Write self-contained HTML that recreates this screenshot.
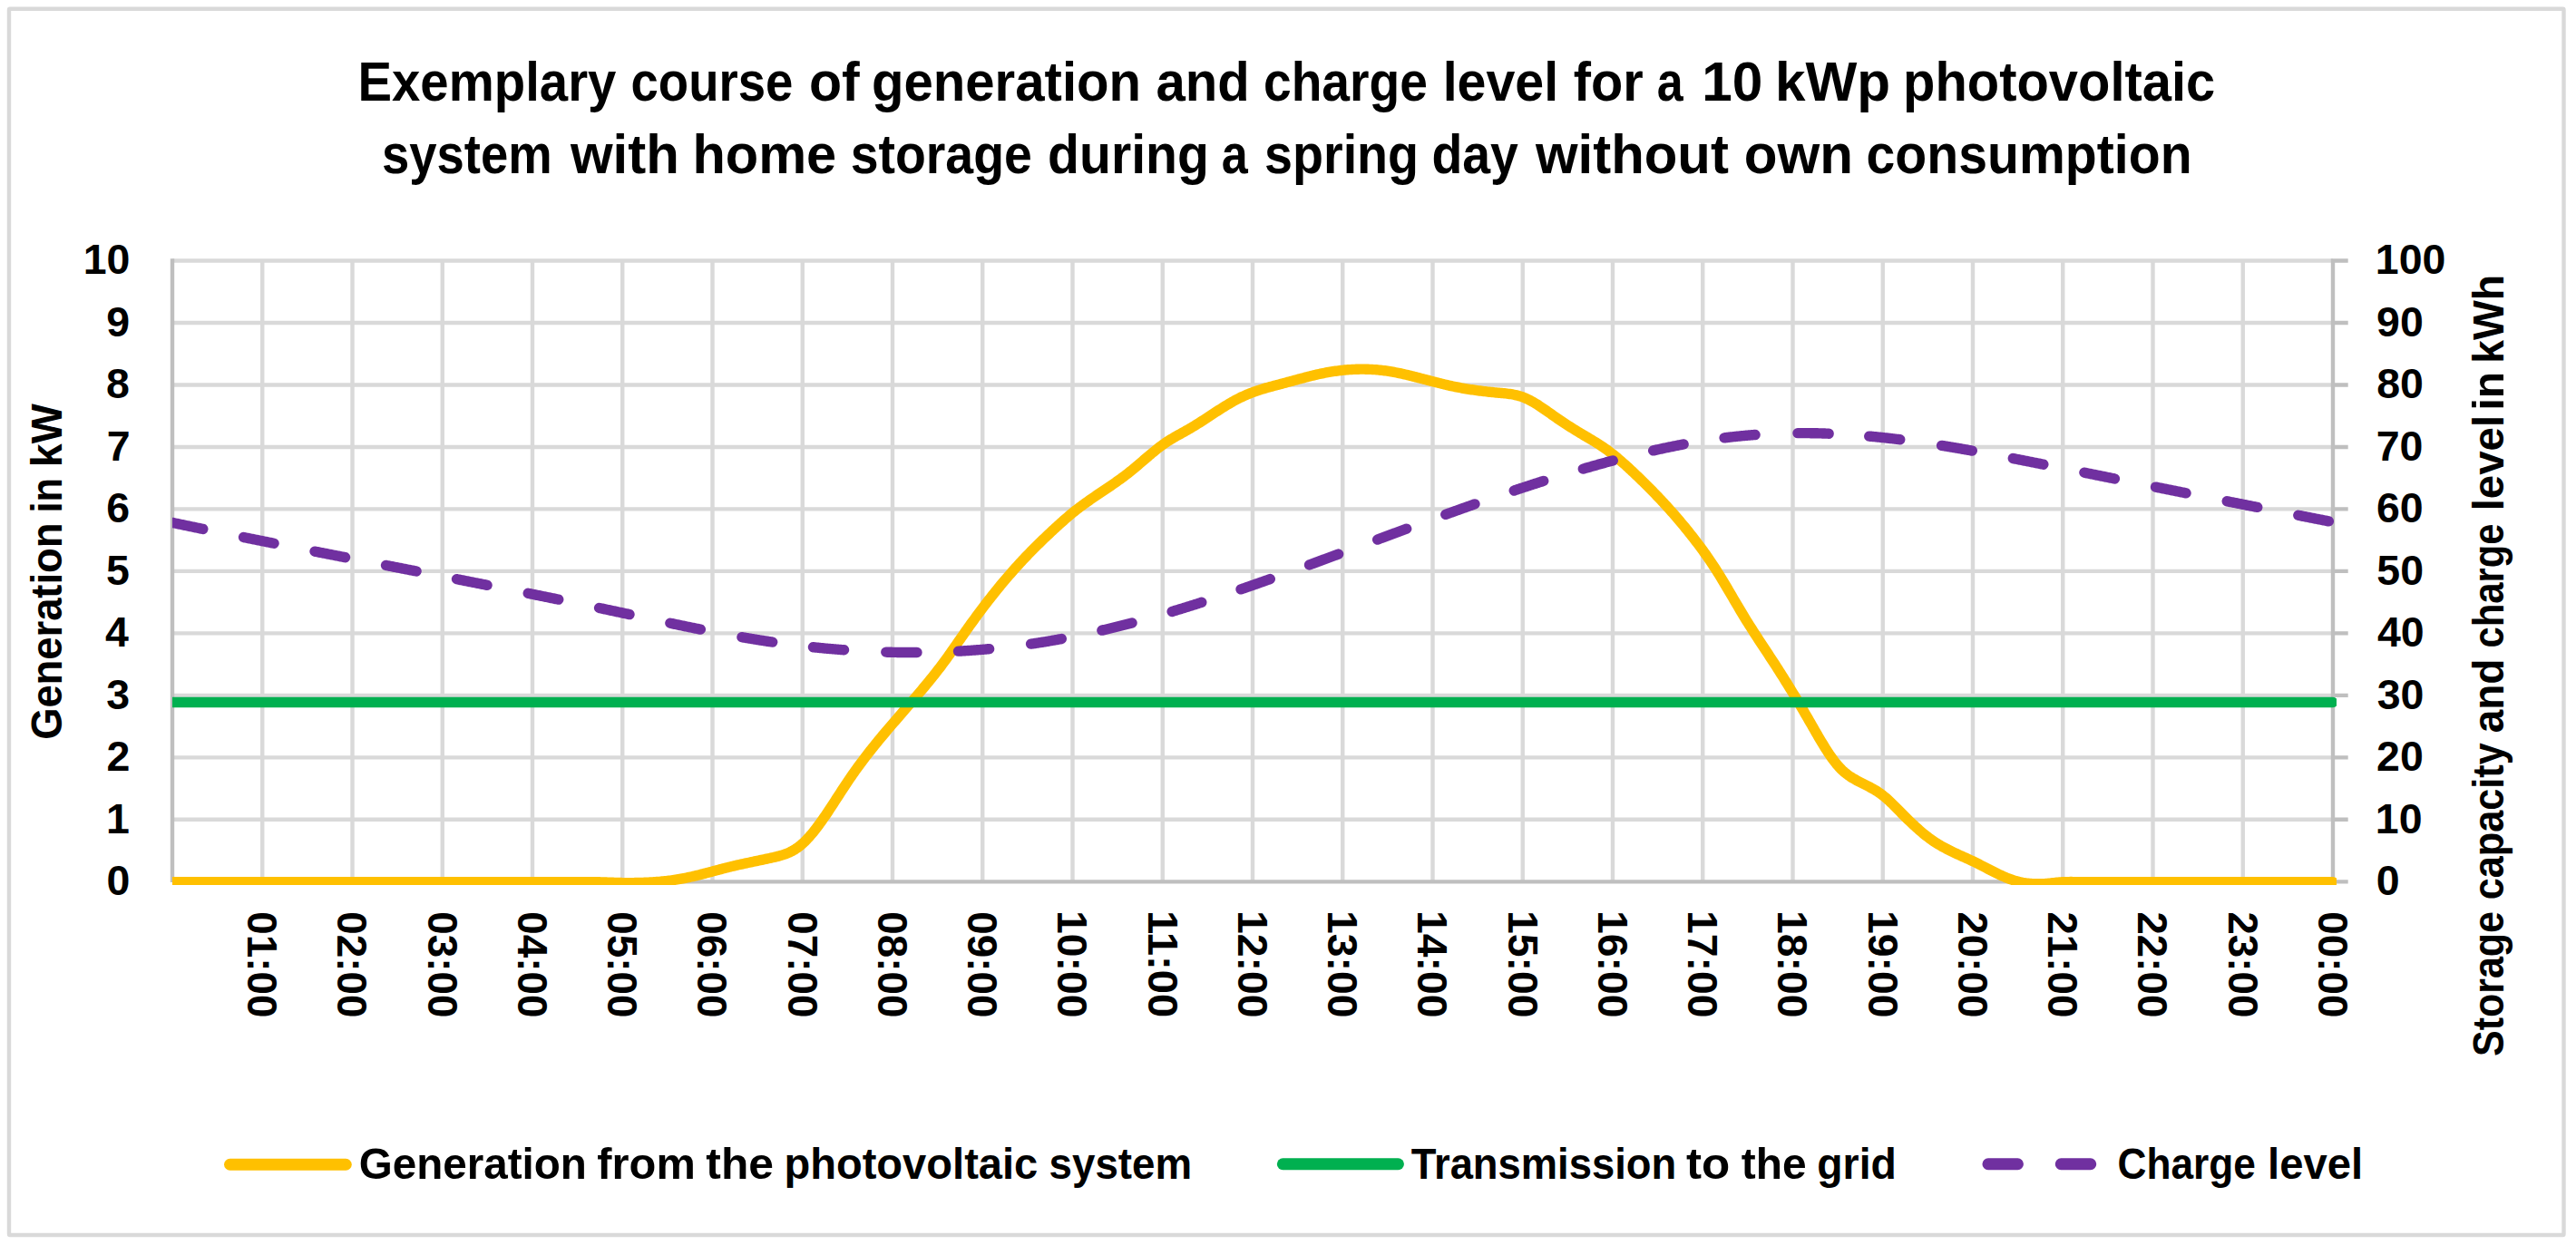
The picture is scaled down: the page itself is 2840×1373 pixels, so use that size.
<!DOCTYPE html>
<html lang="en"><head><meta charset="utf-8"><title>Exemplary course of generation and charge level</title>
<style>html,body{margin:0;padding:0;background:#fff;overflow:hidden}svg{display:block}
text{font-family:"Liberation Sans",Arial,sans-serif;font-weight:bold}</style></head>
<body>
<svg width="2840" height="1373" viewBox="0 0 2840 1373">
<defs><clipPath id="pc"><rect x="190" y="270" width="2386" height="706"/></clipPath></defs>
<rect x="0" y="0" width="2840" height="1373" fill="#fff"/>
<rect x="10" y="9.75" width="2816.5" height="1352.2" fill="none" stroke="#d9d9d9" stroke-width="4.4" rx="1"/>
<path d="M190.00 903.82H2572.00 M190.00 835.34H2572.00 M190.00 766.86H2572.00 M190.00 698.38H2572.00 M190.00 629.90H2572.00 M190.00 561.42H2572.00 M190.00 492.94H2572.00 M190.00 424.46H2572.00 M190.00 355.98H2572.00 M190.00 287.50H2572.00 M289.25 285.30V972.30 M388.50 285.30V972.30 M487.75 285.30V972.30 M587.00 285.30V972.30 M686.25 285.30V972.30 M785.50 285.30V972.30 M884.75 285.30V972.30 M984.00 285.30V972.30 M1083.25 285.30V972.30 M1182.50 285.30V972.30 M1281.75 285.30V972.30 M1381.00 285.30V972.30 M1480.25 285.30V972.30 M1579.50 285.30V972.30 M1678.75 285.30V972.30 M1778.00 285.30V972.30 M1877.25 285.30V972.30 M1976.50 285.30V972.30 M2075.75 285.30V972.30 M2175.00 285.30V972.30 M2274.25 285.30V972.30 M2373.50 285.30V972.30 M2472.75 285.30V972.30" stroke="#d9d9d9" stroke-width="4.4" fill="none"/>
<path d="M190.00 285.30V973.10 M2572.00 285.30V974.50 M190.00 972.40H2572.00 M2572.00 972.40H2588.7 M2572.00 903.82H2588.7 M2572.00 835.34H2588.7 M2572.00 766.86H2588.7 M2572.00 698.38H2588.7 M2572.00 629.90H2588.7 M2572.00 561.42H2588.7 M2572.00 492.94H2588.7 M2572.00 424.46H2588.7 M2572.00 355.98H2588.7 M2572.00 287.50H2588.7" stroke="#bfbfbf" stroke-width="4.4" fill="none"/>
<g clip-path="url(#pc)" fill="none" stroke-linecap="round" stroke-linejoin="round">
<path d="M190.00 972.60L191.50 972.60L193.00 972.60L194.50 972.60L196.00 972.60L197.50 972.60L199.00 972.60L200.50 972.60L202.00 972.60L203.50 972.60L205.00 972.60L206.50 972.60L208.00 972.60L209.50 972.60L211.00 972.60L212.50 972.60L214.00 972.60L215.50 972.60L217.00 972.60L218.50 972.60L220.00 972.60L221.50 972.60L223.00 972.60L224.50 972.60L226.00 972.60L227.50 972.60L229.00 972.60L230.50 972.60L232.00 972.60L233.50 972.60L235.00 972.60L236.50 972.60L238.00 972.60L239.50 972.60L241.00 972.60L242.50 972.60L244.00 972.60L245.50 972.60L247.00 972.60L248.50 972.60L250.00 972.60L251.50 972.60L253.00 972.60L254.50 972.60L256.00 972.60L257.50 972.60L259.00 972.60L260.50 972.60L262.00 972.60L263.50 972.60L265.00 972.60L266.50 972.60L268.00 972.60L269.50 972.60L271.00 972.60L272.50 972.60L274.00 972.60L275.50 972.60L277.00 972.60L278.50 972.60L280.00 972.60L281.50 972.60L283.00 972.60L284.50 972.60L286.00 972.60L287.50 972.60L289.00 972.60L290.50 972.60L292.00 972.60L293.50 972.60L295.00 972.60L296.50 972.60L298.00 972.60L299.50 972.60L301.00 972.60L302.50 972.60L304.00 972.60L305.50 972.60L307.00 972.60L308.50 972.60L310.00 972.60L311.50 972.60L313.00 972.60L314.50 972.60L316.00 972.60L317.50 972.60L319.00 972.60L320.50 972.60L322.00 972.60L323.50 972.60L325.00 972.60L326.50 972.60L328.00 972.60L329.50 972.60L331.00 972.60L332.50 972.60L334.00 972.60L335.50 972.60L337.00 972.60L338.50 972.60L340.00 972.60L341.50 972.60L343.00 972.60L344.50 972.60L346.00 972.60L347.50 972.60L349.00 972.60L350.50 972.60L352.00 972.60L353.50 972.60L355.00 972.60L356.50 972.60L358.00 972.60L359.50 972.60L361.00 972.60L362.50 972.60L364.00 972.60L365.50 972.60L367.00 972.60L368.50 972.60L370.00 972.60L371.50 972.60L373.00 972.60L374.50 972.60L376.00 972.60L377.50 972.60L379.00 972.60L380.50 972.60L382.00 972.60L383.50 972.60L385.00 972.60L386.50 972.60L388.00 972.60L389.50 972.60L391.00 972.60L392.50 972.60L394.00 972.60L395.50 972.60L397.00 972.60L398.50 972.60L400.00 972.60L401.50 972.60L403.00 972.60L404.50 972.60L406.00 972.60L407.50 972.60L409.00 972.60L410.50 972.60L412.00 972.60L413.50 972.60L415.00 972.60L416.50 972.60L418.00 972.60L419.50 972.60L421.00 972.60L422.50 972.60L424.00 972.60L425.50 972.60L427.00 972.60L428.50 972.60L430.00 972.60L431.50 972.60L433.00 972.60L434.50 972.60L436.00 972.60L437.50 972.60L439.00 972.60L440.50 972.60L442.00 972.60L443.50 972.60L445.00 972.60L446.50 972.60L448.00 972.60L449.50 972.60L451.00 972.60L452.50 972.60L454.00 972.60L455.50 972.60L457.00 972.60L458.50 972.60L460.00 972.60L461.50 972.60L463.00 972.60L464.50 972.60L466.00 972.60L467.50 972.60L469.00 972.60L470.50 972.60L472.00 972.60L473.50 972.60L475.00 972.60L476.50 972.60L478.00 972.60L479.50 972.60L481.00 972.60L482.50 972.60L484.00 972.60L485.50 972.60L487.00 972.60L488.50 972.60L490.00 972.60L491.50 972.60L493.00 972.60L494.50 972.60L496.00 972.60L497.50 972.60L499.00 972.60L500.50 972.60L502.00 972.60L503.50 972.60L505.00 972.60L506.50 972.60L508.00 972.60L509.50 972.60L511.00 972.60L512.50 972.60L514.00 972.60L515.50 972.60L517.00 972.60L518.50 972.60L520.00 972.60L521.50 972.60L523.00 972.60L524.50 972.60L526.00 972.60L527.50 972.60L529.00 972.60L530.50 972.60L532.00 972.60L533.50 972.60L535.00 972.60L536.50 972.60L538.00 972.60L539.50 972.60L541.00 972.60L542.50 972.60L544.00 972.60L545.50 972.60L547.00 972.60L548.50 972.60L550.00 972.60L551.50 972.60L553.00 972.60L554.50 972.60L556.00 972.60L557.50 972.60L559.00 972.60L560.50 972.60L562.00 972.60L563.50 972.60L565.00 972.60L566.50 972.60L568.00 972.60L569.50 972.60L571.00 972.60L572.50 972.60L574.00 972.60L575.50 972.60L577.00 972.60L578.50 972.60L580.00 972.60L581.50 972.60L583.00 972.60L584.50 972.60L586.00 972.60L587.50 972.60L589.00 972.60L590.50 972.60L592.00 972.60L593.50 972.60L595.00 972.60L596.50 972.60L598.00 972.60L599.50 972.60L601.00 972.60L602.50 972.60L604.00 972.60L605.50 972.60L607.00 972.60L608.50 972.60L610.00 972.60L611.50 972.60L613.00 972.60L614.50 972.60L616.00 972.60L617.50 972.60L619.00 972.60L620.50 972.60L622.00 972.60L623.50 972.60L625.00 972.60L626.50 972.60L628.00 972.60L629.50 972.60L631.00 972.60L632.50 972.60L634.00 972.60L635.50 972.60L637.00 972.60L638.50 972.60L640.00 972.60L641.50 972.60L643.00 972.60L644.50 972.61L646.00 972.61L647.50 972.62L649.00 972.63L650.50 972.64L652.00 972.66L653.50 972.68L655.00 972.70L656.50 972.72L658.00 972.75L659.50 972.78L661.00 972.82L662.50 972.85L664.00 972.90L665.50 972.94L667.00 972.99L668.50 973.04L670.00 973.09L671.50 973.14L673.00 973.19L674.50 973.25L676.00 973.30L677.50 973.35L679.00 973.40L680.50 973.44L682.00 973.48L683.50 973.52L685.00 973.55L686.50 973.58L688.00 973.60L689.50 973.61L691.00 973.61L692.50 973.61L694.00 973.61L695.50 973.60L697.00 973.59L698.50 973.58L700.00 973.56L701.50 973.54L703.00 973.51L704.50 973.48L706.00 973.44L707.50 973.40L709.00 973.35L710.50 973.30L712.00 973.24L713.50 973.17L715.00 973.10L716.50 973.03L718.00 972.95L719.50 972.86L721.00 972.76L722.50 972.66L724.00 972.55L725.50 972.43L727.00 972.31L728.50 972.18L730.00 972.04L731.50 971.89L733.00 971.73L734.50 971.57L736.00 971.40L737.50 971.22L739.00 971.03L740.50 970.83L742.00 970.62L743.50 970.40L745.00 970.18L746.50 969.94L748.00 969.69L749.50 969.44L751.00 969.17L752.50 968.89L754.00 968.61L755.50 968.31L757.00 968.00L758.50 967.69L760.00 967.37L761.50 967.04L763.00 966.70L764.50 966.35L766.00 966.00L767.50 965.64L769.00 965.28L770.50 964.91L772.00 964.53L773.50 964.15L775.00 963.77L776.50 963.38L778.00 962.99L779.50 962.60L781.00 962.21L782.50 961.81L784.00 961.41L785.50 961.01L787.00 960.61L788.50 960.21L790.00 959.81L791.50 959.42L793.00 959.02L794.50 958.62L796.00 958.23L797.50 957.84L799.00 957.45L800.50 957.06L802.00 956.68L803.50 956.31L805.00 955.93L806.50 955.57L808.00 955.20L809.50 954.85L811.00 954.50L812.50 954.15L814.00 953.81L815.50 953.47L817.00 953.14L818.50 952.81L820.00 952.48L821.50 952.16L823.00 951.84L824.50 951.52L826.00 951.20L827.50 950.89L829.00 950.58L830.50 950.26L832.00 949.95L833.50 949.64L835.00 949.33L836.50 949.01L838.00 948.70L839.50 948.38L841.00 948.07L842.50 947.75L844.00 947.43L845.50 947.10L847.00 946.78L848.50 946.45L850.00 946.11L851.50 945.78L853.00 945.43L854.50 945.09L856.00 944.73L857.50 944.35L859.00 943.96L860.50 943.55L862.00 943.11L863.50 942.64L865.00 942.14L866.50 941.59L868.00 941.01L869.50 940.37L871.00 939.69L872.50 938.95L874.00 938.15L875.50 937.29L877.00 936.36L878.50 935.36L880.00 934.29L881.50 933.14L883.00 931.91L884.50 930.61L886.00 929.23L887.50 927.78L889.00 926.27L890.50 924.69L892.00 923.05L893.50 921.35L895.00 919.60L896.50 917.78L898.00 915.92L899.50 914.00L901.00 912.04L902.50 910.03L904.00 907.98L905.50 905.89L907.00 903.76L908.50 901.60L910.00 899.41L911.50 897.20L913.00 894.96L914.50 892.70L916.00 890.42L917.50 888.13L919.00 885.83L920.50 883.52L922.00 881.20L923.50 878.88L925.00 876.56L926.50 874.25L928.00 871.94L929.50 869.64L931.00 867.35L932.50 865.08L934.00 862.83L935.50 860.60L937.00 858.39L938.50 856.21L940.00 854.05L941.50 851.91L943.00 849.80L944.50 847.71L946.00 845.64L947.50 843.59L949.00 841.56L950.50 839.55L952.00 837.56L953.50 835.59L955.00 833.63L956.50 831.69L958.00 829.77L959.50 827.86L961.00 825.96L962.50 824.09L964.00 822.22L965.50 820.37L967.00 818.53L968.50 816.70L970.00 814.88L971.50 813.07L973.00 811.27L974.50 809.49L976.00 807.71L977.50 805.93L979.00 804.17L980.50 802.41L982.00 800.66L983.50 798.91L985.00 797.16L986.50 795.43L988.00 793.69L989.50 791.96L991.00 790.22L992.50 788.50L994.00 786.77L995.50 785.04L997.00 783.31L998.50 781.58L1000.00 779.85L1001.50 778.12L1003.00 776.38L1004.50 774.64L1006.00 772.90L1007.50 771.16L1009.00 769.41L1010.50 767.65L1012.00 765.89L1013.50 764.12L1015.00 762.35L1016.50 760.57L1018.00 758.78L1019.50 756.98L1021.00 755.17L1022.50 753.36L1024.00 751.53L1025.50 749.69L1027.00 747.84L1028.50 745.97L1030.00 744.09L1031.50 742.20L1033.00 740.28L1034.50 738.35L1036.00 736.40L1037.50 734.43L1039.00 732.44L1040.50 730.43L1042.00 728.39L1043.50 726.33L1045.00 724.25L1046.50 722.15L1048.00 720.03L1049.50 717.90L1051.00 715.76L1052.50 713.60L1054.00 711.45L1055.50 709.28L1057.00 707.12L1058.50 704.95L1060.00 702.79L1061.50 700.64L1063.00 698.50L1064.50 696.36L1066.00 694.24L1067.50 692.13L1069.00 690.03L1070.50 687.94L1072.00 685.86L1073.50 683.80L1075.00 681.74L1076.50 679.70L1078.00 677.67L1079.50 675.65L1081.00 673.64L1082.50 671.64L1084.00 669.66L1085.50 667.68L1087.00 665.72L1088.50 663.78L1090.00 661.84L1091.50 659.92L1093.00 658.01L1094.50 656.11L1096.00 654.22L1097.50 652.35L1099.00 650.49L1100.50 648.65L1102.00 646.81L1103.50 644.99L1105.00 643.19L1106.50 641.39L1108.00 639.61L1109.50 637.85L1111.00 636.09L1112.50 634.35L1114.00 632.63L1115.50 630.92L1117.00 629.22L1118.50 627.54L1120.00 625.87L1121.50 624.21L1123.00 622.57L1124.50 620.94L1126.00 619.32L1127.50 617.71L1129.00 616.12L1130.50 614.54L1132.00 612.97L1133.50 611.41L1135.00 609.87L1136.50 608.33L1138.00 606.81L1139.50 605.29L1141.00 603.79L1142.50 602.29L1144.00 600.81L1145.50 599.33L1147.00 597.86L1148.50 596.41L1150.00 594.96L1151.50 593.51L1153.00 592.08L1154.50 590.66L1156.00 589.24L1157.50 587.83L1159.00 586.42L1160.50 585.02L1162.00 583.63L1163.50 582.25L1165.00 580.87L1166.50 579.50L1168.00 578.14L1169.50 576.79L1171.00 575.45L1172.50 574.12L1174.00 572.80L1175.50 571.49L1177.00 570.20L1178.50 568.93L1180.00 567.67L1181.50 566.42L1183.00 565.20L1184.50 563.99L1186.00 562.80L1187.50 561.63L1189.00 560.47L1190.50 559.33L1192.00 558.21L1193.50 557.10L1195.00 556.00L1196.50 554.92L1198.00 553.85L1199.50 552.78L1201.00 551.73L1202.50 550.69L1204.00 549.65L1205.50 548.62L1207.00 547.59L1208.50 546.58L1210.00 545.56L1211.50 544.55L1213.00 543.54L1214.50 542.53L1216.00 541.52L1217.50 540.51L1219.00 539.50L1220.50 538.49L1222.00 537.47L1223.50 536.45L1225.00 535.43L1226.50 534.40L1228.00 533.36L1229.50 532.31L1231.00 531.26L1232.50 530.19L1234.00 529.12L1235.50 528.03L1237.00 526.94L1238.50 525.82L1240.00 524.70L1241.50 523.56L1243.00 522.40L1244.50 521.23L1246.00 520.03L1247.50 518.82L1249.00 517.60L1250.50 516.35L1252.00 515.10L1253.50 513.83L1255.00 512.56L1256.50 511.28L1258.00 509.99L1259.50 508.70L1261.00 507.41L1262.50 506.12L1264.00 504.84L1265.50 503.56L1267.00 502.28L1268.50 501.02L1270.00 499.76L1271.50 498.52L1273.00 497.30L1274.50 496.09L1276.00 494.90L1277.50 493.74L1279.00 492.59L1280.50 491.47L1282.00 490.38L1283.50 489.32L1285.00 488.29L1286.50 487.29L1288.00 486.32L1289.50 485.37L1291.00 484.44L1292.50 483.54L1294.00 482.65L1295.50 481.78L1297.00 480.92L1298.50 480.07L1300.00 479.23L1301.50 478.40L1303.00 477.57L1304.50 476.73L1306.00 475.90L1307.50 475.06L1309.00 474.22L1310.50 473.36L1312.00 472.49L1313.50 471.61L1315.00 470.71L1316.50 469.81L1318.00 468.88L1319.50 467.95L1321.00 467.01L1322.50 466.06L1324.00 465.10L1325.50 464.14L1327.00 463.17L1328.50 462.19L1330.00 461.21L1331.50 460.23L1333.00 459.25L1334.50 458.26L1336.00 457.28L1337.50 456.30L1339.00 455.32L1340.50 454.34L1342.00 453.37L1343.50 452.40L1345.00 451.44L1346.50 450.49L1348.00 449.54L1349.50 448.60L1351.00 447.68L1352.50 446.76L1354.00 445.86L1355.50 444.98L1357.00 444.10L1358.50 443.24L1360.00 442.40L1361.50 441.58L1363.00 440.77L1364.50 439.99L1366.00 439.22L1367.50 438.48L1369.00 437.75L1370.50 437.05L1372.00 436.38L1373.50 435.72L1375.00 435.08L1376.50 434.47L1378.00 433.87L1379.50 433.28L1381.00 432.72L1382.50 432.17L1384.00 431.64L1385.50 431.12L1387.00 430.61L1388.50 430.12L1390.00 429.64L1391.50 429.17L1393.00 428.71L1394.50 428.27L1396.00 427.83L1397.50 427.39L1399.00 426.97L1400.50 426.55L1402.00 426.14L1403.50 425.74L1405.00 425.33L1406.50 424.93L1408.00 424.54L1409.50 424.14L1411.00 423.75L1412.50 423.36L1414.00 422.97L1415.50 422.57L1417.00 422.17L1418.50 421.78L1420.00 421.37L1421.50 420.97L1423.00 420.56L1424.50 420.15L1426.00 419.74L1427.50 419.33L1429.00 418.92L1430.50 418.52L1432.00 418.11L1433.50 417.70L1435.00 417.30L1436.50 416.90L1438.00 416.50L1439.50 416.10L1441.00 415.71L1442.50 415.33L1444.00 414.95L1445.50 414.57L1447.00 414.20L1448.50 413.84L1450.00 413.49L1451.50 413.14L1453.00 412.80L1454.50 412.48L1456.00 412.16L1457.50 411.84L1459.00 411.54L1460.50 411.25L1462.00 410.97L1463.50 410.69L1465.00 410.43L1466.50 410.18L1468.00 409.93L1469.50 409.70L1471.00 409.47L1472.50 409.26L1474.00 409.05L1475.50 408.86L1477.00 408.67L1478.50 408.50L1480.00 408.33L1481.50 408.18L1483.00 408.03L1484.50 407.90L1486.00 407.78L1487.50 407.67L1489.00 407.57L1490.50 407.48L1492.00 407.40L1493.50 407.33L1495.00 407.27L1496.50 407.23L1498.00 407.19L1499.50 407.17L1501.00 407.16L1502.50 407.16L1504.00 407.17L1505.50 407.19L1507.00 407.22L1508.50 407.27L1510.00 407.33L1511.50 407.40L1513.00 407.48L1514.50 407.57L1516.00 407.68L1517.50 407.80L1519.00 407.93L1520.50 408.07L1522.00 408.23L1523.50 408.40L1525.00 408.58L1526.50 408.77L1528.00 408.98L1529.50 409.19L1531.00 409.42L1532.50 409.67L1534.00 409.92L1535.50 410.18L1537.00 410.45L1538.50 410.73L1540.00 411.03L1541.50 411.33L1543.00 411.64L1544.50 411.95L1546.00 412.28L1547.50 412.61L1549.00 412.95L1550.50 413.29L1552.00 413.64L1553.50 414.00L1555.00 414.36L1556.50 414.73L1558.00 415.10L1559.50 415.48L1561.00 415.86L1562.50 416.24L1564.00 416.62L1565.50 417.01L1567.00 417.40L1568.50 417.79L1570.00 418.18L1571.50 418.58L1573.00 418.97L1574.50 419.36L1576.00 419.76L1577.50 420.15L1579.00 420.54L1580.50 420.93L1582.00 421.31L1583.50 421.70L1585.00 422.08L1586.50 422.46L1588.00 422.83L1589.50 423.20L1591.00 423.57L1592.50 423.93L1594.00 424.29L1595.50 424.64L1597.00 424.98L1598.50 425.32L1600.00 425.65L1601.50 425.97L1603.00 426.29L1604.50 426.60L1606.00 426.90L1607.50 427.19L1609.00 427.47L1610.50 427.75L1612.00 428.02L1613.50 428.29L1615.00 428.55L1616.50 428.80L1618.00 429.04L1619.50 429.28L1621.00 429.52L1622.50 429.74L1624.00 429.96L1625.50 430.18L1627.00 430.39L1628.50 430.59L1630.00 430.79L1631.50 430.99L1633.00 431.18L1634.50 431.36L1636.00 431.54L1637.50 431.71L1639.00 431.88L1640.50 432.05L1642.00 432.21L1643.50 432.37L1645.00 432.52L1646.50 432.67L1648.00 432.82L1649.50 432.96L1651.00 433.10L1652.50 433.24L1654.00 433.37L1655.50 433.51L1657.00 433.65L1658.50 433.79L1660.00 433.95L1661.50 434.11L1663.00 434.30L1664.50 434.50L1666.00 434.72L1667.50 434.97L1669.00 435.24L1670.50 435.55L1672.00 435.89L1673.50 436.26L1675.00 436.68L1676.50 437.14L1678.00 437.64L1679.50 438.20L1681.00 438.80L1682.50 439.45L1684.00 440.14L1685.50 440.87L1687.00 441.64L1688.50 442.44L1690.00 443.28L1691.50 444.15L1693.00 445.05L1694.50 445.97L1696.00 446.92L1697.50 447.90L1699.00 448.89L1700.50 449.90L1702.00 450.92L1703.50 451.96L1705.00 453.00L1706.50 454.06L1708.00 455.12L1709.50 456.18L1711.00 457.25L1712.50 458.31L1714.00 459.37L1715.50 460.42L1717.00 461.47L1718.50 462.50L1720.00 463.52L1721.50 464.54L1723.00 465.54L1724.50 466.53L1726.00 467.51L1727.50 468.48L1729.00 469.45L1730.50 470.40L1732.00 471.35L1733.50 472.29L1735.00 473.23L1736.50 474.15L1738.00 475.07L1739.50 475.99L1741.00 476.90L1742.50 477.80L1744.00 478.70L1745.50 479.60L1747.00 480.49L1748.50 481.38L1750.00 482.26L1751.50 483.15L1753.00 484.04L1754.50 484.94L1756.00 485.84L1757.50 486.75L1759.00 487.67L1760.50 488.60L1762.00 489.55L1763.50 490.51L1765.00 491.49L1766.50 492.49L1768.00 493.51L1769.50 494.56L1771.00 495.63L1772.50 496.72L1774.00 497.84L1775.50 498.98L1777.00 500.14L1778.50 501.33L1780.00 502.54L1781.50 503.77L1783.00 505.01L1784.50 506.28L1786.00 507.56L1787.50 508.86L1789.00 510.18L1790.50 511.51L1792.00 512.85L1793.50 514.21L1795.00 515.58L1796.50 516.97L1798.00 518.36L1799.50 519.77L1801.00 521.18L1802.50 522.60L1804.00 524.03L1805.50 525.47L1807.00 526.91L1808.50 528.36L1810.00 529.83L1811.50 531.29L1813.00 532.77L1814.50 534.26L1816.00 535.75L1817.50 537.25L1819.00 538.76L1820.50 540.29L1822.00 541.82L1823.50 543.36L1825.00 544.91L1826.50 546.47L1828.00 548.04L1829.50 549.62L1831.00 551.22L1832.50 552.82L1834.00 554.44L1835.50 556.06L1837.00 557.70L1838.50 559.35L1840.00 561.02L1841.50 562.69L1843.00 564.38L1844.50 566.08L1846.00 567.80L1847.50 569.52L1849.00 571.26L1850.50 573.02L1852.00 574.79L1853.50 576.57L1855.00 578.37L1856.50 580.18L1858.00 582.00L1859.50 583.84L1861.00 585.70L1862.50 587.57L1864.00 589.46L1865.50 591.36L1867.00 593.28L1868.50 595.21L1870.00 597.17L1871.50 599.14L1873.00 601.12L1874.50 603.13L1876.00 605.17L1877.50 607.22L1879.00 609.30L1880.50 611.41L1882.00 613.54L1883.50 615.70L1885.00 617.89L1886.50 620.11L1888.00 622.35L1889.50 624.63L1891.00 626.95L1892.50 629.29L1894.00 631.67L1895.50 634.08L1897.00 636.51L1898.50 638.98L1900.00 641.46L1901.50 643.96L1903.00 646.49L1904.50 649.02L1906.00 651.57L1907.50 654.12L1909.00 656.68L1910.50 659.25L1912.00 661.81L1913.50 664.37L1915.00 666.92L1916.50 669.47L1918.00 672.00L1919.50 674.52L1921.00 677.02L1922.50 679.50L1924.00 681.96L1925.50 684.39L1927.00 686.80L1928.50 689.20L1930.00 691.57L1931.50 693.93L1933.00 696.27L1934.50 698.60L1936.00 700.92L1937.50 703.22L1939.00 705.52L1940.50 707.81L1942.00 710.10L1943.50 712.38L1945.00 714.65L1946.50 716.93L1948.00 719.20L1949.50 721.48L1951.00 723.76L1952.50 726.05L1954.00 728.34L1955.50 730.64L1957.00 732.95L1958.50 735.27L1960.00 737.61L1961.50 739.96L1963.00 742.31L1964.50 744.69L1966.00 747.07L1967.50 749.46L1969.00 751.87L1970.50 754.29L1972.00 756.72L1973.50 759.16L1975.00 761.62L1976.50 764.09L1978.00 766.56L1979.50 769.05L1981.00 771.55L1982.50 774.06L1984.00 776.59L1985.50 779.12L1987.00 781.66L1988.50 784.22L1990.00 786.78L1991.50 789.36L1993.00 791.95L1994.50 794.55L1996.00 797.16L1997.50 799.77L1999.00 802.39L2000.50 805.00L2002.00 807.60L2003.50 810.19L2005.00 812.77L2006.50 815.31L2008.00 817.84L2009.50 820.32L2011.00 822.77L2012.50 825.18L2014.00 827.53L2015.50 829.84L2017.00 832.09L2018.50 834.27L2020.00 836.38L2021.50 838.43L2023.00 840.39L2024.50 842.27L2026.00 844.06L2027.50 845.76L2029.00 847.37L2030.50 848.87L2032.00 850.28L2033.50 851.60L2035.00 852.84L2036.50 854.01L2038.00 855.11L2039.50 856.15L2041.00 857.13L2042.50 858.07L2044.00 858.96L2045.50 859.81L2047.00 860.64L2048.50 861.44L2050.00 862.22L2051.50 862.99L2053.00 863.75L2054.50 864.51L2056.00 865.26L2057.50 866.02L2059.00 866.78L2060.50 867.56L2062.00 868.35L2063.50 869.16L2065.00 870.00L2066.50 870.86L2068.00 871.76L2069.50 872.70L2071.00 873.68L2072.50 874.70L2074.00 875.78L2075.50 876.91L2077.00 878.10L2078.50 879.34L2080.00 880.65L2081.50 882.00L2083.00 883.39L2084.50 884.83L2086.00 886.29L2087.50 887.77L2089.00 889.28L2090.50 890.79L2092.00 892.32L2093.50 893.84L2095.00 895.36L2096.50 896.87L2098.00 898.38L2099.50 899.87L2101.00 901.36L2102.50 902.84L2104.00 904.30L2105.50 905.75L2107.00 907.19L2108.50 908.61L2110.00 910.01L2111.50 911.40L2113.00 912.77L2114.50 914.11L2116.00 915.44L2117.50 916.74L2119.00 918.02L2120.50 919.27L2122.00 920.49L2123.50 921.69L2125.00 922.86L2126.50 923.99L2128.00 925.10L2129.50 926.17L2131.00 927.21L2132.50 928.22L2134.00 929.20L2135.50 930.15L2137.00 931.07L2138.50 931.97L2140.00 932.84L2141.50 933.69L2143.00 934.52L2144.50 935.33L2146.00 936.12L2147.50 936.90L2149.00 937.66L2150.50 938.40L2152.00 939.13L2153.50 939.85L2155.00 940.56L2156.50 941.26L2158.00 941.96L2159.50 942.64L2161.00 943.33L2162.50 944.01L2164.00 944.69L2165.50 945.37L2167.00 946.05L2168.50 946.73L2170.00 947.41L2171.50 948.11L2173.00 948.81L2174.50 949.51L2176.00 950.23L2177.50 950.96L2179.00 951.70L2180.50 952.44L2182.00 953.20L2183.50 953.96L2185.00 954.73L2186.50 955.50L2188.00 956.28L2189.50 957.06L2191.00 957.83L2192.50 958.61L2194.00 959.38L2195.50 960.14L2197.00 960.91L2198.50 961.66L2200.00 962.40L2201.50 963.14L2203.00 963.86L2204.50 964.57L2206.00 965.27L2207.50 965.95L2209.00 966.62L2210.50 967.26L2212.00 967.89L2213.50 968.49L2215.00 969.07L2216.50 969.63L2218.00 970.16L2219.50 970.67L2221.00 971.14L2222.50 971.59L2224.00 972.00L2225.50 972.39L2227.00 972.74L2228.50 973.06L2230.00 973.35L2231.50 973.60L2233.00 973.83L2234.50 974.04L2236.00 974.21L2237.50 974.36L2239.00 974.49L2240.50 974.59L2242.00 974.67L2243.50 974.73L2245.00 974.77L2246.50 974.79L2248.00 974.79L2249.50 974.77L2251.00 974.74L2252.50 974.69L2254.00 974.62L2255.50 974.52L2257.00 974.39L2258.50 974.25L2260.00 974.09L2261.50 973.92L2263.00 973.75L2264.50 973.59L2266.00 973.43L2267.50 973.27L2269.00 973.13L2270.50 973.00L2272.00 972.89L2273.50 972.80L2275.00 972.72L2276.50 972.66L2278.00 972.62L2279.50 972.59L2281.00 972.58L2282.50 972.57L2284.00 972.57L2285.50 972.58L2287.00 972.59L2288.50 972.60L2290.00 972.60L2291.50 972.60L2293.00 972.60L2294.50 972.60L2296.00 972.60L2297.50 972.60L2299.00 972.60L2300.50 972.60L2302.00 972.60L2303.50 972.60L2305.00 972.60L2306.50 972.60L2308.00 972.60L2309.50 972.60L2311.00 972.60L2312.50 972.60L2314.00 972.60L2315.50 972.60L2317.00 972.60L2318.50 972.60L2320.00 972.60L2321.50 972.60L2323.00 972.60L2324.50 972.60L2326.00 972.60L2327.50 972.60L2329.00 972.60L2330.50 972.60L2332.00 972.60L2333.50 972.60L2335.00 972.60L2336.50 972.60L2338.00 972.60L2339.50 972.60L2341.00 972.60L2342.50 972.60L2344.00 972.60L2345.50 972.60L2347.00 972.60L2348.50 972.60L2350.00 972.60L2351.50 972.60L2353.00 972.60L2354.50 972.60L2356.00 972.60L2357.50 972.60L2359.00 972.60L2360.50 972.60L2362.00 972.60L2363.50 972.60L2365.00 972.60L2366.50 972.60L2368.00 972.60L2369.50 972.60L2371.00 972.60L2372.50 972.60L2374.00 972.60L2375.50 972.60L2377.00 972.60L2378.50 972.60L2380.00 972.60L2381.50 972.60L2383.00 972.60L2384.50 972.60L2386.00 972.60L2387.50 972.60L2389.00 972.60L2390.50 972.60L2392.00 972.60L2393.50 972.60L2395.00 972.60L2396.50 972.60L2398.00 972.60L2399.50 972.60L2401.00 972.60L2402.50 972.60L2404.00 972.60L2405.50 972.60L2407.00 972.60L2408.50 972.60L2410.00 972.60L2411.50 972.60L2413.00 972.60L2414.50 972.60L2416.00 972.60L2417.50 972.60L2419.00 972.60L2420.50 972.60L2422.00 972.60L2423.50 972.60L2425.00 972.60L2426.50 972.60L2428.00 972.60L2429.50 972.60L2431.00 972.60L2432.50 972.60L2434.00 972.60L2435.50 972.60L2437.00 972.60L2438.50 972.60L2440.00 972.60L2441.50 972.60L2443.00 972.60L2444.50 972.60L2446.00 972.60L2447.50 972.60L2449.00 972.60L2450.50 972.60L2452.00 972.60L2453.50 972.60L2455.00 972.60L2456.50 972.60L2458.00 972.60L2459.50 972.60L2461.00 972.60L2462.50 972.60L2464.00 972.60L2465.50 972.60L2467.00 972.60L2468.50 972.60L2470.00 972.60L2471.50 972.60L2473.00 972.60L2474.50 972.60L2476.00 972.60L2477.50 972.60L2479.00 972.60L2480.50 972.60L2482.00 972.60L2483.50 972.60L2485.00 972.60L2486.50 972.60L2488.00 972.60L2489.50 972.60L2491.00 972.60L2492.50 972.60L2494.00 972.60L2495.50 972.60L2497.00 972.60L2498.50 972.60L2500.00 972.60L2501.50 972.60L2503.00 972.60L2504.50 972.60L2506.00 972.60L2507.50 972.60L2509.00 972.60L2510.50 972.60L2512.00 972.60L2513.50 972.60L2515.00 972.60L2516.50 972.60L2518.00 972.60L2519.50 972.60L2521.00 972.60L2522.50 972.60L2524.00 972.60L2525.50 972.60L2527.00 972.60L2528.50 972.60L2530.00 972.60L2531.50 972.60L2533.00 972.60L2534.50 972.60L2536.00 972.60L2537.50 972.60L2539.00 972.60L2540.50 972.60L2542.00 972.60L2543.50 972.60L2545.00 972.60L2546.50 972.60L2548.00 972.60L2549.50 972.60L2551.00 972.60L2552.50 972.60L2554.00 972.60L2555.50 972.60L2557.00 972.60L2558.50 972.60L2560.00 972.60L2561.50 972.60L2563.00 972.60L2564.50 972.60L2566.00 972.60L2567.50 972.60L2569.00 972.60L2570.50 972.60L2572.00 972.60" stroke="#ffc000" stroke-width="11.4"/>
<path d="M190.0 774.45H2572.0" stroke="#00b050" stroke-width="11.4"/>
<path d="M190.00 576.40L191.00 576.61L192.00 576.82L193.00 577.03L194.00 577.24L195.00 577.45L196.00 577.66L197.00 577.86L198.00 578.07L199.00 578.28L200.00 578.49L201.00 578.70L202.00 578.91L203.00 579.12L204.00 579.32L205.00 579.53L206.00 579.74L207.00 579.95L208.00 580.15L209.00 580.36L210.00 580.57L211.00 580.78L212.00 580.98L213.00 581.19L214.00 581.40L215.00 581.60L216.00 581.81L217.00 582.02L218.00 582.22L219.00 582.43L220.00 582.64L221.00 582.84L222.00 583.05L223.00 583.25L224.00 583.46L225.00 583.66L226.00 583.87L227.00 584.08L228.00 584.28L229.00 584.49L230.00 584.69L231.00 584.90L232.00 585.10L233.00 585.31L234.00 585.51L235.00 585.71L236.00 585.92L237.00 586.12L238.00 586.33L239.00 586.53L240.00 586.74L241.00 586.94L242.00 587.14L243.00 587.35L244.00 587.55L245.00 587.75L246.00 587.96L247.00 588.16L248.00 588.37L249.00 588.57L250.00 588.77L251.00 588.97L252.00 589.18L253.00 589.38L254.00 589.58L255.00 589.79L256.00 589.99L257.00 590.19L258.00 590.39L259.00 590.60L260.00 590.80L261.00 591.00L262.00 591.20L263.00 591.40L264.00 591.61L265.00 591.81L266.00 592.01L267.00 592.21L268.00 592.41L269.00 592.61L270.00 592.81L271.00 593.02L272.00 593.22L273.00 593.42L274.00 593.62L275.00 593.82L276.00 594.02L277.00 594.22L278.00 594.42L279.00 594.62L280.00 594.82L281.00 595.02L282.00 595.22L283.00 595.42L284.00 595.62L285.00 595.82L286.00 596.02L287.00 596.22L288.00 596.42L289.00 596.62L290.00 596.82L291.00 597.02L292.00 597.22L293.00 597.42L294.00 597.62L295.00 597.82L296.00 598.02L297.00 598.22L298.00 598.42L299.00 598.62L300.00 598.82L301.00 599.02L302.00 599.22L303.00 599.41L304.00 599.61L305.00 599.81L306.00 600.01L307.00 600.21L308.00 600.41L309.00 600.61L310.00 600.81L311.00 601.00L312.00 601.20L313.00 601.40L314.00 601.60L315.00 601.80L316.00 601.99L317.00 602.19L318.00 602.39L319.00 602.59L320.00 602.79L321.00 602.98L322.00 603.18L323.00 603.38L324.00 603.58L325.00 603.77L326.00 603.97L327.00 604.17L328.00 604.37L329.00 604.56L330.00 604.76L331.00 604.96L332.00 605.16L333.00 605.35L334.00 605.55L335.00 605.75L336.00 605.94L337.00 606.14L338.00 606.34L339.00 606.53L340.00 606.73L341.00 606.93L342.00 607.12L343.00 607.32L344.00 607.52L345.00 607.71L346.00 607.91L347.00 608.11L348.00 608.30L349.00 608.50L350.00 608.70L351.00 608.89L352.00 609.09L353.00 609.29L354.00 609.48L355.00 609.68L356.00 609.87L357.00 610.07L358.00 610.27L359.00 610.46L360.00 610.66L361.00 610.85L362.00 611.05L363.00 611.25L364.00 611.44L365.00 611.64L366.00 611.83L367.00 612.03L368.00 612.23L369.00 612.42L370.00 612.62L371.00 612.81L372.00 613.01L373.00 613.20L374.00 613.40L375.00 613.59L376.00 613.79L377.00 613.99L378.00 614.18L379.00 614.38L380.00 614.57L381.00 614.77L382.00 614.96L383.00 615.16L384.00 615.35L385.00 615.55L386.00 615.74L387.00 615.94L388.00 616.13L389.00 616.33L390.00 616.52L391.00 616.72L392.00 616.91L393.00 617.11L394.00 617.30L395.00 617.50L396.00 617.69L397.00 617.89L398.00 618.08L399.00 618.28L400.00 618.47L401.00 618.67L402.00 618.86L403.00 619.06L404.00 619.25L405.00 619.45L406.00 619.64L407.00 619.84L408.00 620.03L409.00 620.23L410.00 620.42L411.00 620.62L412.00 620.81L413.00 621.01L414.00 621.20L415.00 621.40L416.00 621.59L417.00 621.79L418.00 621.98L419.00 622.18L420.00 622.37L421.00 622.57L422.00 622.76L423.00 622.96L424.00 623.15L425.00 623.35L426.00 623.54L427.00 623.74L428.00 623.93L429.00 624.13L430.00 624.32L431.00 624.52L432.00 624.71L433.00 624.91L434.00 625.10L435.00 625.29L436.00 625.49L437.00 625.68L438.00 625.88L439.00 626.07L440.00 626.27L441.00 626.46L442.00 626.66L443.00 626.85L444.00 627.05L445.00 627.24L446.00 627.44L447.00 627.63L448.00 627.83L449.00 628.02L450.00 628.22L451.00 628.41L452.00 628.61L453.00 628.80L454.00 629.00L455.00 629.19L456.00 629.39L457.00 629.58L458.00 629.78L459.00 629.97L460.00 630.17L461.00 630.36L462.00 630.56L463.00 630.75L464.00 630.95L465.00 631.14L466.00 631.34L467.00 631.53L468.00 631.73L469.00 631.93L470.00 632.12L471.00 632.32L472.00 632.51L473.00 632.71L474.00 632.90L475.00 633.10L476.00 633.29L477.00 633.49L478.00 633.68L479.00 633.88L480.00 634.08L481.00 634.27L482.00 634.47L483.00 634.66L484.00 634.86L485.00 635.05L486.00 635.25L487.00 635.45L488.00 635.64L489.00 635.84L490.00 636.03L491.00 636.23L492.00 636.42L493.00 636.62L494.00 636.82L495.00 637.01L496.00 637.21L497.00 637.41L498.00 637.60L499.00 637.80L500.00 637.99L501.00 638.19L502.00 638.39L503.00 638.58L504.00 638.78L505.00 638.98L506.00 639.17L507.00 639.37L508.00 639.57L509.00 639.76L510.00 639.96L511.00 640.16L512.00 640.35L513.00 640.55L514.00 640.75L515.00 640.94L516.00 641.14L517.00 641.34L518.00 641.53L519.00 641.73L520.00 641.93L521.00 642.13L522.00 642.32L523.00 642.52L524.00 642.72L525.00 642.91L526.00 643.11L527.00 643.31L528.00 643.51L529.00 643.70L530.00 643.90L531.00 644.10L532.00 644.30L533.00 644.50L534.00 644.69L535.00 644.89L536.00 645.09L537.00 645.29L538.00 645.49L539.00 645.68L540.00 645.88L541.00 646.08L542.00 646.28L543.00 646.48L544.00 646.68L545.00 646.87L546.00 647.07L547.00 647.27L548.00 647.47L549.00 647.67L550.00 647.87L551.00 648.07L552.00 648.27L553.00 648.47L554.00 648.67L555.00 648.86L556.00 649.06L557.00 649.26L558.00 649.46L559.00 649.66L560.00 649.86L561.00 650.06L562.00 650.26L563.00 650.46L564.00 650.66L565.00 650.86L566.00 651.06L567.00 651.26L568.00 651.46L569.00 651.66L570.00 651.86L571.00 652.06L572.00 652.27L573.00 652.47L574.00 652.67L575.00 652.87L576.00 653.07L577.00 653.27L578.00 653.47L579.00 653.67L580.00 653.87L581.00 654.08L582.00 654.28L583.00 654.48L584.00 654.68L585.00 654.88L586.00 655.08L587.00 655.29L588.00 655.49L589.00 655.69L590.00 655.89L591.00 656.10L592.00 656.30L593.00 656.50L594.00 656.70L595.00 656.91L596.00 657.11L597.00 657.31L598.00 657.52L599.00 657.72L600.00 657.92L601.00 658.13L602.00 658.33L603.00 658.53L604.00 658.74L605.00 658.94L606.00 659.14L607.00 659.35L608.00 659.55L609.00 659.76L610.00 659.96L611.00 660.17L612.00 660.37L613.00 660.58L614.00 660.78L615.00 660.99L616.00 661.19L617.00 661.40L618.00 661.60L619.00 661.81L620.00 662.01L621.00 662.22L622.00 662.42L623.00 662.63L624.00 662.84L625.00 663.04L626.00 663.25L627.00 663.45L628.00 663.66L629.00 663.87L630.00 664.07L631.00 664.28L632.00 664.49L633.00 664.70L634.00 664.90L635.00 665.11L636.00 665.32L637.00 665.53L638.00 665.73L639.00 665.94L640.00 666.15L641.00 666.36L642.00 666.57L643.00 666.78L644.00 666.98L645.00 667.19L646.00 667.40L647.00 667.61L648.00 667.82L649.00 668.03L650.00 668.24L651.00 668.45L652.00 668.66L653.00 668.87L654.00 669.08L655.00 669.29L656.00 669.50L657.00 669.71L658.00 669.92L659.00 670.13L660.00 670.34L661.00 670.55L662.00 670.76L663.00 670.98L664.00 671.19L665.00 671.40L666.00 671.61L667.00 671.82L668.00 672.03L669.00 672.25L670.00 672.46L671.00 672.67L672.00 672.88L673.00 673.10L674.00 673.31L675.00 673.52L676.00 673.74L677.00 673.95L678.00 674.16L679.00 674.38L680.00 674.59L681.00 674.81L682.00 675.02L683.00 675.24L684.00 675.45L685.00 675.66L686.00 675.88L687.00 676.09L688.00 676.31L689.00 676.52L690.00 676.74L691.00 676.95L692.00 677.17L693.00 677.38L694.00 677.60L695.00 677.82L696.00 678.03L697.00 678.25L698.00 678.46L699.00 678.68L700.00 678.89L701.00 679.11L702.00 679.32L703.00 679.54L704.00 679.76L705.00 679.97L706.00 680.19L707.00 680.40L708.00 680.62L709.00 680.83L710.00 681.05L711.00 681.27L712.00 681.48L713.00 681.70L714.00 681.91L715.00 682.13L716.00 682.34L717.00 682.56L718.00 682.77L719.00 682.99L720.00 683.20L721.00 683.42L722.00 683.63L723.00 683.84L724.00 684.06L725.00 684.27L726.00 684.49L727.00 684.70L728.00 684.91L729.00 685.13L730.00 685.34L731.00 685.55L732.00 685.77L733.00 685.98L734.00 686.19L735.00 686.40L736.00 686.62L737.00 686.83L738.00 687.04L739.00 687.25L740.00 687.46L741.00 687.67L742.00 687.89L743.00 688.10L744.00 688.31L745.00 688.52L746.00 688.73L747.00 688.94L748.00 689.14L749.00 689.35L750.00 689.56L751.00 689.77L752.00 689.98L753.00 690.19L754.00 690.39L755.00 690.60L756.00 690.81L757.00 691.01L758.00 691.22L759.00 691.42L760.00 691.63L761.00 691.83L762.00 692.04L763.00 692.24L764.00 692.45L765.00 692.65L766.00 692.85L767.00 693.06L768.00 693.26L769.00 693.46L770.00 693.66L771.00 693.86L772.00 694.06L773.00 694.26L774.00 694.46L775.00 694.66L776.00 694.86L777.00 695.06L778.00 695.26L779.00 695.45L780.00 695.65L781.00 695.85L782.00 696.04L783.00 696.24L784.00 696.43L785.00 696.63L786.00 696.82L787.00 697.01L788.00 697.21L789.00 697.40L790.00 697.59L791.00 697.78L792.00 697.97L793.00 698.16L794.00 698.35L795.00 698.54L796.00 698.73L797.00 698.91L798.00 699.10L799.00 699.29L800.00 699.47L801.00 699.66L802.00 699.84L803.00 700.03L804.00 700.21L805.00 700.39L806.00 700.57L807.00 700.75L808.00 700.93L809.00 701.11L810.00 701.29L811.00 701.47L812.00 701.65L813.00 701.83L814.00 702.00L815.00 702.18L816.00 702.35L817.00 702.53L818.00 702.70L819.00 702.87L820.00 703.05L821.00 703.22L822.00 703.39L823.00 703.56L824.00 703.73L825.00 703.89L826.00 704.06L827.00 704.23L828.00 704.39L829.00 704.56L830.00 704.72L831.00 704.89L832.00 705.05L833.00 705.21L834.00 705.37L835.00 705.53L836.00 705.69L837.00 705.85L838.00 706.01L839.00 706.16L840.00 706.32L841.00 706.48L842.00 706.63L843.00 706.78L844.00 706.94L845.00 707.09L846.00 707.24L847.00 707.39L848.00 707.54L849.00 707.68L850.00 707.83L851.00 707.98L852.00 708.12L853.00 708.27L854.00 708.41L855.00 708.56L856.00 708.70L857.00 708.84L858.00 708.98L859.00 709.12L860.00 709.26L861.00 709.40L862.00 709.53L863.00 709.67L864.00 709.80L865.00 709.94L866.00 710.07L867.00 710.20L868.00 710.34L869.00 710.47L870.00 710.60L871.00 710.73L872.00 710.85L873.00 710.98L874.00 711.11L875.00 711.23L876.00 711.36L877.00 711.48L878.00 711.60L879.00 711.73L880.00 711.85L881.00 711.97L882.00 712.09L883.00 712.20L884.00 712.32L885.00 712.44L886.00 712.55L887.00 712.67L888.00 712.78L889.00 712.90L890.00 713.01L891.00 713.12L892.00 713.23L893.00 713.34L894.00 713.45L895.00 713.55L896.00 713.66L897.00 713.77L898.00 713.87L899.00 713.98L900.00 714.08L901.00 714.18L902.00 714.28L903.00 714.38L904.00 714.48L905.00 714.58L906.00 714.68L907.00 714.77L908.00 714.87L909.00 714.96L910.00 715.06L911.00 715.15L912.00 715.24L913.00 715.33L914.00 715.42L915.00 715.51L916.00 715.60L917.00 715.69L918.00 715.77L919.00 715.86L920.00 715.94L921.00 716.03L922.00 716.11L923.00 716.19L924.00 716.27L925.00 716.35L926.00 716.43L927.00 716.51L928.00 716.58L929.00 716.66L930.00 716.73L931.00 716.81L932.00 716.88L933.00 716.95L934.00 717.02L935.00 717.09L936.00 717.16L937.00 717.23L938.00 717.30L939.00 717.37L940.00 717.43L941.00 717.50L942.00 717.56L943.00 717.62L944.00 717.68L945.00 717.74L946.00 717.80L947.00 717.86L948.00 717.92L949.00 717.98L950.00 718.03L951.00 718.09L952.00 718.14L953.00 718.19L954.00 718.25L955.00 718.30L956.00 718.35L957.00 718.39L958.00 718.44L959.00 718.49L960.00 718.54L961.00 718.58L962.00 718.62L963.00 718.67L964.00 718.71L965.00 718.75L966.00 718.79L967.00 718.83L968.00 718.87L969.00 718.90L970.00 718.94L971.00 718.97L972.00 719.01L973.00 719.04L974.00 719.07L975.00 719.10L976.00 719.13L977.00 719.16L978.00 719.19L979.00 719.22L980.00 719.24L981.00 719.27L982.00 719.29L983.00 719.32L984.00 719.34L985.00 719.36L986.00 719.38L987.00 719.40L988.00 719.42L989.00 719.43L990.00 719.45L991.00 719.46L992.00 719.48L993.00 719.49L994.00 719.50L995.00 719.51L996.00 719.52L997.00 719.53L998.00 719.54L999.00 719.55L1000.00 719.55L1001.00 719.56L1002.00 719.56L1003.00 719.56L1004.00 719.56L1005.00 719.56L1006.00 719.56L1007.00 719.56L1008.00 719.56L1009.00 719.56L1010.00 719.55L1011.00 719.55L1012.00 719.54L1013.00 719.53L1014.00 719.52L1015.00 719.51L1016.00 719.50L1017.00 719.49L1018.00 719.48L1019.00 719.46L1020.00 719.45L1021.00 719.43L1022.00 719.41L1023.00 719.39L1024.00 719.37L1025.00 719.35L1026.00 719.33L1027.00 719.31L1028.00 719.29L1029.00 719.26L1030.00 719.24L1031.00 719.21L1032.00 719.18L1033.00 719.15L1034.00 719.12L1035.00 719.09L1036.00 719.06L1037.00 719.03L1038.00 718.99L1039.00 718.96L1040.00 718.92L1041.00 718.88L1042.00 718.84L1043.00 718.80L1044.00 718.76L1045.00 718.72L1046.00 718.68L1047.00 718.63L1048.00 718.59L1049.00 718.54L1050.00 718.50L1051.00 718.45L1052.00 718.40L1053.00 718.35L1054.00 718.30L1055.00 718.24L1056.00 718.19L1057.00 718.13L1058.00 718.08L1059.00 718.02L1060.00 717.96L1061.00 717.90L1062.00 717.84L1063.00 717.78L1064.00 717.72L1065.00 717.65L1066.00 717.59L1067.00 717.52L1068.00 717.46L1069.00 717.39L1070.00 717.32L1071.00 717.25L1072.00 717.18L1073.00 717.11L1074.00 717.03L1075.00 716.96L1076.00 716.88L1077.00 716.80L1078.00 716.73L1079.00 716.65L1080.00 716.57L1081.00 716.48L1082.00 716.40L1083.00 716.32L1084.00 716.23L1085.00 716.15L1086.00 716.06L1087.00 715.97L1088.00 715.88L1089.00 715.79L1090.00 715.70L1091.00 715.61L1092.00 715.51L1093.00 715.42L1094.00 715.32L1095.00 715.22L1096.00 715.13L1097.00 715.03L1098.00 714.93L1099.00 714.82L1100.00 714.72L1101.00 714.62L1102.00 714.51L1103.00 714.40L1104.00 714.30L1105.00 714.19L1106.00 714.08L1107.00 713.97L1108.00 713.85L1109.00 713.74L1110.00 713.63L1111.00 713.51L1112.00 713.39L1113.00 713.28L1114.00 713.16L1115.00 713.04L1116.00 712.92L1117.00 712.79L1118.00 712.67L1119.00 712.54L1120.00 712.42L1121.00 712.29L1122.00 712.16L1123.00 712.03L1124.00 711.90L1125.00 711.77L1126.00 711.64L1127.00 711.50L1128.00 711.37L1129.00 711.23L1130.00 711.09L1131.00 710.95L1132.00 710.81L1133.00 710.67L1134.00 710.53L1135.00 710.39L1136.00 710.24L1137.00 710.09L1138.00 709.95L1139.00 709.80L1140.00 709.65L1141.00 709.50L1142.00 709.35L1143.00 709.19L1144.00 709.04L1145.00 708.88L1146.00 708.73L1147.00 708.57L1148.00 708.41L1149.00 708.25L1150.00 708.09L1151.00 707.92L1152.00 707.76L1153.00 707.59L1154.00 707.43L1155.00 707.26L1156.00 707.09L1157.00 706.92L1158.00 706.75L1159.00 706.58L1160.00 706.40L1161.00 706.23L1162.00 706.05L1163.00 705.88L1164.00 705.70L1165.00 705.52L1166.00 705.34L1167.00 705.16L1168.00 704.97L1169.00 704.79L1170.00 704.60L1171.00 704.42L1172.00 704.23L1173.00 704.04L1174.00 703.85L1175.00 703.66L1176.00 703.47L1177.00 703.27L1178.00 703.08L1179.00 702.88L1180.00 702.69L1181.00 702.49L1182.00 702.29L1183.00 702.09L1184.00 701.89L1185.00 701.69L1186.00 701.49L1187.00 701.28L1188.00 701.08L1189.00 700.87L1190.00 700.66L1191.00 700.45L1192.00 700.24L1193.00 700.03L1194.00 699.82L1195.00 699.61L1196.00 699.39L1197.00 699.18L1198.00 698.96L1199.00 698.75L1200.00 698.53L1201.00 698.31L1202.00 698.09L1203.00 697.87L1204.00 697.64L1205.00 697.42L1206.00 697.20L1207.00 696.97L1208.00 696.75L1209.00 696.52L1210.00 696.29L1211.00 696.06L1212.00 695.83L1213.00 695.60L1214.00 695.37L1215.00 695.13L1216.00 694.90L1217.00 694.66L1218.00 694.43L1219.00 694.19L1220.00 693.95L1221.00 693.71L1222.00 693.47L1223.00 693.23L1224.00 692.99L1225.00 692.75L1226.00 692.50L1227.00 692.26L1228.00 692.01L1229.00 691.76L1230.00 691.52L1231.00 691.27L1232.00 691.02L1233.00 690.77L1234.00 690.52L1235.00 690.26L1236.00 690.01L1237.00 689.76L1238.00 689.50L1239.00 689.24L1240.00 688.99L1241.00 688.73L1242.00 688.47L1243.00 688.21L1244.00 687.95L1245.00 687.69L1246.00 687.43L1247.00 687.16L1248.00 686.90L1249.00 686.63L1250.00 686.37L1251.00 686.10L1252.00 685.83L1253.00 685.57L1254.00 685.30L1255.00 685.03L1256.00 684.75L1257.00 684.48L1258.00 684.21L1259.00 683.94L1260.00 683.66L1261.00 683.39L1262.00 683.11L1263.00 682.83L1264.00 682.56L1265.00 682.28L1266.00 682.00L1267.00 681.72L1268.00 681.44L1269.00 681.16L1270.00 680.87L1271.00 680.59L1272.00 680.31L1273.00 680.02L1274.00 679.74L1275.00 679.45L1276.00 679.16L1277.00 678.88L1278.00 678.59L1279.00 678.30L1280.00 678.01L1281.00 677.72L1282.00 677.42L1283.00 677.13L1284.00 676.84L1285.00 676.54L1286.00 676.25L1287.00 675.95L1288.00 675.66L1289.00 675.36L1290.00 675.06L1291.00 674.77L1292.00 674.47L1293.00 674.17L1294.00 673.87L1295.00 673.56L1296.00 673.26L1297.00 672.96L1298.00 672.66L1299.00 672.35L1300.00 672.05L1301.00 671.74L1302.00 671.44L1303.00 671.13L1304.00 670.82L1305.00 670.51L1306.00 670.21L1307.00 669.90L1308.00 669.59L1309.00 669.28L1310.00 668.96L1311.00 668.65L1312.00 668.34L1313.00 668.03L1314.00 667.71L1315.00 667.40L1316.00 667.08L1317.00 666.77L1318.00 666.45L1319.00 666.13L1320.00 665.81L1321.00 665.50L1322.00 665.18L1323.00 664.86L1324.00 664.54L1325.00 664.22L1326.00 663.89L1327.00 663.57L1328.00 663.25L1329.00 662.93L1330.00 662.60L1331.00 662.28L1332.00 661.95L1333.00 661.63L1334.00 661.30L1335.00 660.98L1336.00 660.65L1337.00 660.32L1338.00 659.99L1339.00 659.66L1340.00 659.33L1341.00 659.00L1342.00 658.67L1343.00 658.34L1344.00 658.01L1345.00 657.68L1346.00 657.35L1347.00 657.01L1348.00 656.68L1349.00 656.34L1350.00 656.01L1351.00 655.67L1352.00 655.34L1353.00 655.00L1354.00 654.67L1355.00 654.33L1356.00 653.99L1357.00 653.65L1358.00 653.31L1359.00 652.97L1360.00 652.63L1361.00 652.29L1362.00 651.95L1363.00 651.61L1364.00 651.27L1365.00 650.93L1366.00 650.59L1367.00 650.24L1368.00 649.90L1369.00 649.56L1370.00 649.21L1371.00 648.87L1372.00 648.52L1373.00 648.18L1374.00 647.83L1375.00 647.48L1376.00 647.14L1377.00 646.79L1378.00 646.44L1379.00 646.09L1380.00 645.75L1381.00 645.40L1382.00 645.05L1383.00 644.70L1384.00 644.35L1385.00 644.00L1386.00 643.65L1387.00 643.29L1388.00 642.94L1389.00 642.59L1390.00 642.24L1391.00 641.89L1392.00 641.53L1393.00 641.18L1394.00 640.82L1395.00 640.47L1396.00 640.12L1397.00 639.76L1398.00 639.41L1399.00 639.05L1400.00 638.69L1401.00 638.34L1402.00 637.98L1403.00 637.62L1404.00 637.27L1405.00 636.91L1406.00 636.55L1407.00 636.19L1408.00 635.83L1409.00 635.48L1410.00 635.12L1411.00 634.76L1412.00 634.40L1413.00 634.04L1414.00 633.68L1415.00 633.32L1416.00 632.95L1417.00 632.59L1418.00 632.23L1419.00 631.87L1420.00 631.51L1421.00 631.15L1422.00 630.78L1423.00 630.42L1424.00 630.06L1425.00 629.69L1426.00 629.33L1427.00 628.97L1428.00 628.60L1429.00 628.24L1430.00 627.87L1431.00 627.51L1432.00 627.14L1433.00 626.78L1434.00 626.41L1435.00 626.05L1436.00 625.68L1437.00 625.32L1438.00 624.95L1439.00 624.58L1440.00 624.22L1441.00 623.85L1442.00 623.48L1443.00 623.12L1444.00 622.75L1445.00 622.38L1446.00 622.01L1447.00 621.65L1448.00 621.28L1449.00 620.91L1450.00 620.54L1451.00 620.17L1452.00 619.80L1453.00 619.44L1454.00 619.07L1455.00 618.70L1456.00 618.33L1457.00 617.96L1458.00 617.59L1459.00 617.22L1460.00 616.85L1461.00 616.48L1462.00 616.11L1463.00 615.74L1464.00 615.37L1465.00 615.00L1466.00 614.63L1467.00 614.26L1468.00 613.89L1469.00 613.52L1470.00 613.15L1471.00 612.77L1472.00 612.40L1473.00 612.03L1474.00 611.66L1475.00 611.29L1476.00 610.92L1477.00 610.55L1478.00 610.18L1479.00 609.80L1480.00 609.43L1481.00 609.06L1482.00 608.69L1483.00 608.32L1484.00 607.94L1485.00 607.57L1486.00 607.20L1487.00 606.83L1488.00 606.46L1489.00 606.08L1490.00 605.71L1491.00 605.34L1492.00 604.97L1493.00 604.59L1494.00 604.22L1495.00 603.85L1496.00 603.48L1497.00 603.10L1498.00 602.73L1499.00 602.36L1500.00 601.99L1501.00 601.61L1502.00 601.24L1503.00 600.87L1504.00 600.50L1505.00 600.12L1506.00 599.75L1507.00 599.38L1508.00 599.01L1509.00 598.63L1510.00 598.26L1511.00 597.89L1512.00 597.52L1513.00 597.14L1514.00 596.77L1515.00 596.40L1516.00 596.03L1517.00 595.65L1518.00 595.28L1519.00 594.91L1520.00 594.54L1521.00 594.17L1522.00 593.79L1523.00 593.42L1524.00 593.05L1525.00 592.68L1526.00 592.31L1527.00 591.93L1528.00 591.56L1529.00 591.19L1530.00 590.82L1531.00 590.45L1532.00 590.07L1533.00 589.70L1534.00 589.33L1535.00 588.96L1536.00 588.59L1537.00 588.22L1538.00 587.85L1539.00 587.48L1540.00 587.11L1541.00 586.74L1542.00 586.36L1543.00 585.99L1544.00 585.62L1545.00 585.25L1546.00 584.88L1547.00 584.51L1548.00 584.14L1549.00 583.77L1550.00 583.40L1551.00 583.03L1552.00 582.66L1553.00 582.30L1554.00 581.93L1555.00 581.56L1556.00 581.19L1557.00 580.82L1558.00 580.45L1559.00 580.08L1560.00 579.71L1561.00 579.35L1562.00 578.98L1563.00 578.61L1564.00 578.24L1565.00 577.88L1566.00 577.51L1567.00 577.14L1568.00 576.77L1569.00 576.41L1570.00 576.04L1571.00 575.67L1572.00 575.31L1573.00 574.94L1574.00 574.58L1575.00 574.21L1576.00 573.84L1577.00 573.48L1578.00 573.11L1579.00 572.75L1580.00 572.39L1581.00 572.02L1582.00 571.66L1583.00 571.29L1584.00 570.93L1585.00 570.57L1586.00 570.20L1587.00 569.84L1588.00 569.48L1589.00 569.11L1590.00 568.75L1591.00 568.39L1592.00 568.03L1593.00 567.67L1594.00 567.30L1595.00 566.94L1596.00 566.58L1597.00 566.22L1598.00 565.86L1599.00 565.50L1600.00 565.14L1601.00 564.78L1602.00 564.42L1603.00 564.06L1604.00 563.70L1605.00 563.35L1606.00 562.99L1607.00 562.63L1608.00 562.27L1609.00 561.91L1610.00 561.56L1611.00 561.20L1612.00 560.84L1613.00 560.49L1614.00 560.13L1615.00 559.78L1616.00 559.42L1617.00 559.07L1618.00 558.71L1619.00 558.36L1620.00 558.00L1621.00 557.65L1622.00 557.30L1623.00 556.94L1624.00 556.59L1625.00 556.24L1626.00 555.89L1627.00 555.53L1628.00 555.18L1629.00 554.83L1630.00 554.48L1631.00 554.13L1632.00 553.78L1633.00 553.43L1634.00 553.08L1635.00 552.73L1636.00 552.39L1637.00 552.04L1638.00 551.69L1639.00 551.34L1640.00 550.99L1641.00 550.65L1642.00 550.30L1643.00 549.96L1644.00 549.61L1645.00 549.27L1646.00 548.92L1647.00 548.58L1648.00 548.23L1649.00 547.89L1650.00 547.55L1651.00 547.20L1652.00 546.86L1653.00 546.52L1654.00 546.18L1655.00 545.84L1656.00 545.50L1657.00 545.16L1658.00 544.82L1659.00 544.48L1660.00 544.14L1661.00 543.80L1662.00 543.46L1663.00 543.12L1664.00 542.79L1665.00 542.45L1666.00 542.11L1667.00 541.78L1668.00 541.44L1669.00 541.11L1670.00 540.77L1671.00 540.44L1672.00 540.11L1673.00 539.77L1674.00 539.44L1675.00 539.11L1676.00 538.78L1677.00 538.45L1678.00 538.12L1679.00 537.79L1680.00 537.46L1681.00 537.13L1682.00 536.80L1683.00 536.47L1684.00 536.14L1685.00 535.81L1686.00 535.49L1687.00 535.16L1688.00 534.84L1689.00 534.51L1690.00 534.19L1691.00 533.86L1692.00 533.54L1693.00 533.22L1694.00 532.89L1695.00 532.57L1696.00 532.25L1697.00 531.93L1698.00 531.61L1699.00 531.29L1700.00 530.97L1701.00 530.65L1702.00 530.33L1703.00 530.01L1704.00 529.70L1705.00 529.38L1706.00 529.06L1707.00 528.75L1708.00 528.43L1709.00 528.12L1710.00 527.81L1711.00 527.49L1712.00 527.18L1713.00 526.87L1714.00 526.56L1715.00 526.25L1716.00 525.94L1717.00 525.63L1718.00 525.32L1719.00 525.01L1720.00 524.70L1721.00 524.39L1722.00 524.09L1723.00 523.78L1724.00 523.48L1725.00 523.17L1726.00 522.87L1727.00 522.56L1728.00 522.26L1729.00 521.96L1730.00 521.66L1731.00 521.36L1732.00 521.05L1733.00 520.75L1734.00 520.46L1735.00 520.16L1736.00 519.86L1737.00 519.56L1738.00 519.27L1739.00 518.97L1740.00 518.67L1741.00 518.38L1742.00 518.09L1743.00 517.79L1744.00 517.50L1745.00 517.21L1746.00 516.92L1747.00 516.63L1748.00 516.34L1749.00 516.05L1750.00 515.76L1751.00 515.47L1752.00 515.18L1753.00 514.90L1754.00 514.61L1755.00 514.33L1756.00 514.04L1757.00 513.76L1758.00 513.47L1759.00 513.19L1760.00 512.91L1761.00 512.63L1762.00 512.35L1763.00 512.07L1764.00 511.79L1765.00 511.51L1766.00 511.24L1767.00 510.96L1768.00 510.68L1769.00 510.41L1770.00 510.13L1771.00 509.86L1772.00 509.59L1773.00 509.32L1774.00 509.05L1775.00 508.77L1776.00 508.51L1777.00 508.24L1778.00 507.97L1779.00 507.70L1780.00 507.43L1781.00 507.17L1782.00 506.90L1783.00 506.64L1784.00 506.38L1785.00 506.12L1786.00 505.85L1787.00 505.59L1788.00 505.33L1789.00 505.07L1790.00 504.82L1791.00 504.56L1792.00 504.30L1793.00 504.05L1794.00 503.79L1795.00 503.54L1796.00 503.29L1797.00 503.04L1798.00 502.79L1799.00 502.54L1800.00 502.29L1801.00 502.04L1802.00 501.79L1803.00 501.55L1804.00 501.30L1805.00 501.06L1806.00 500.81L1807.00 500.57L1808.00 500.33L1809.00 500.09L1810.00 499.85L1811.00 499.61L1812.00 499.37L1813.00 499.14L1814.00 498.90L1815.00 498.67L1816.00 498.43L1817.00 498.20L1818.00 497.97L1819.00 497.74L1820.00 497.51L1821.00 497.28L1822.00 497.06L1823.00 496.83L1824.00 496.60L1825.00 496.38L1826.00 496.16L1827.00 495.94L1828.00 495.71L1829.00 495.49L1830.00 495.28L1831.00 495.06L1832.00 494.84L1833.00 494.63L1834.00 494.41L1835.00 494.20L1836.00 493.99L1837.00 493.78L1838.00 493.57L1839.00 493.36L1840.00 493.15L1841.00 492.94L1842.00 492.74L1843.00 492.54L1844.00 492.33L1845.00 492.13L1846.00 491.93L1847.00 491.73L1848.00 491.53L1849.00 491.34L1850.00 491.14L1851.00 490.95L1852.00 490.75L1853.00 490.56L1854.00 490.37L1855.00 490.18L1856.00 489.99L1857.00 489.81L1858.00 489.62L1859.00 489.44L1860.00 489.25L1861.00 489.07L1862.00 488.89L1863.00 488.71L1864.00 488.53L1865.00 488.35L1866.00 488.18L1867.00 488.00L1868.00 487.83L1869.00 487.66L1870.00 487.49L1871.00 487.32L1872.00 487.15L1873.00 486.99L1874.00 486.82L1875.00 486.66L1876.00 486.49L1877.00 486.33L1878.00 486.17L1879.00 486.01L1880.00 485.86L1881.00 485.70L1882.00 485.55L1883.00 485.39L1884.00 485.24L1885.00 485.09L1886.00 484.94L1887.00 484.80L1888.00 484.65L1889.00 484.51L1890.00 484.36L1891.00 484.22L1892.00 484.08L1893.00 483.94L1894.00 483.81L1895.00 483.67L1896.00 483.54L1897.00 483.40L1898.00 483.27L1899.00 483.14L1900.00 483.01L1901.00 482.88L1902.00 482.76L1903.00 482.64L1904.00 482.51L1905.00 482.39L1906.00 482.27L1907.00 482.15L1908.00 482.04L1909.00 481.92L1910.00 481.81L1911.00 481.70L1912.00 481.59L1913.00 481.48L1914.00 481.37L1915.00 481.26L1916.00 481.16L1917.00 481.06L1918.00 480.96L1919.00 480.86L1920.00 480.76L1921.00 480.66L1922.00 480.57L1923.00 480.48L1924.00 480.38L1925.00 480.29L1926.00 480.21L1927.00 480.12L1928.00 480.03L1929.00 479.95L1930.00 479.87L1931.00 479.79L1932.00 479.71L1933.00 479.63L1934.00 479.55L1935.00 479.48L1936.00 479.41L1937.00 479.33L1938.00 479.26L1939.00 479.20L1940.00 479.13L1941.00 479.06L1942.00 479.00L1943.00 478.94L1944.00 478.88L1945.00 478.82L1946.00 478.76L1947.00 478.70L1948.00 478.65L1949.00 478.59L1950.00 478.54L1951.00 478.49L1952.00 478.44L1953.00 478.39L1954.00 478.35L1955.00 478.30L1956.00 478.26L1957.00 478.22L1958.00 478.18L1959.00 478.14L1960.00 478.10L1961.00 478.07L1962.00 478.03L1963.00 478.00L1964.00 477.97L1965.00 477.94L1966.00 477.91L1967.00 477.88L1968.00 477.85L1969.00 477.83L1970.00 477.80L1971.00 477.78L1972.00 477.76L1973.00 477.74L1974.00 477.73L1975.00 477.71L1976.00 477.69L1977.00 477.68L1978.00 477.67L1979.00 477.66L1980.00 477.65L1981.00 477.64L1982.00 477.63L1983.00 477.63L1984.00 477.62L1985.00 477.62L1986.00 477.62L1987.00 477.62L1988.00 477.62L1989.00 477.62L1990.00 477.63L1991.00 477.63L1992.00 477.64L1993.00 477.65L1994.00 477.66L1995.00 477.67L1996.00 477.68L1997.00 477.69L1998.00 477.71L1999.00 477.72L2000.00 477.74L2001.00 477.76L2002.00 477.78L2003.00 477.80L2004.00 477.82L2005.00 477.85L2006.00 477.87L2007.00 477.90L2008.00 477.92L2009.00 477.95L2010.00 477.98L2011.00 478.01L2012.00 478.05L2013.00 478.08L2014.00 478.12L2015.00 478.15L2016.00 478.19L2017.00 478.23L2018.00 478.27L2019.00 478.31L2020.00 478.35L2021.00 478.40L2022.00 478.44L2023.00 478.49L2024.00 478.53L2025.00 478.58L2026.00 478.63L2027.00 478.68L2028.00 478.74L2029.00 478.79L2030.00 478.84L2031.00 478.90L2032.00 478.96L2033.00 479.01L2034.00 479.07L2035.00 479.13L2036.00 479.20L2037.00 479.26L2038.00 479.32L2039.00 479.39L2040.00 479.45L2041.00 479.52L2042.00 479.59L2043.00 479.66L2044.00 479.73L2045.00 479.80L2046.00 479.88L2047.00 479.95L2048.00 480.02L2049.00 480.10L2050.00 480.18L2051.00 480.26L2052.00 480.34L2053.00 480.42L2054.00 480.50L2055.00 480.58L2056.00 480.67L2057.00 480.75L2058.00 480.84L2059.00 480.93L2060.00 481.02L2061.00 481.11L2062.00 481.20L2063.00 481.29L2064.00 481.38L2065.00 481.48L2066.00 481.57L2067.00 481.67L2068.00 481.77L2069.00 481.86L2070.00 481.96L2071.00 482.06L2072.00 482.17L2073.00 482.27L2074.00 482.37L2075.00 482.48L2076.00 482.58L2077.00 482.69L2078.00 482.80L2079.00 482.90L2080.00 483.01L2081.00 483.13L2082.00 483.24L2083.00 483.35L2084.00 483.46L2085.00 483.58L2086.00 483.69L2087.00 483.81L2088.00 483.93L2089.00 484.05L2090.00 484.17L2091.00 484.29L2092.00 484.41L2093.00 484.53L2094.00 484.65L2095.00 484.78L2096.00 484.90L2097.00 485.03L2098.00 485.16L2099.00 485.29L2100.00 485.41L2101.00 485.54L2102.00 485.67L2103.00 485.81L2104.00 485.94L2105.00 486.07L2106.00 486.21L2107.00 486.34L2108.00 486.48L2109.00 486.61L2110.00 486.75L2111.00 486.89L2112.00 487.03L2113.00 487.17L2114.00 487.31L2115.00 487.45L2116.00 487.59L2117.00 487.74L2118.00 487.88L2119.00 488.03L2120.00 488.17L2121.00 488.32L2122.00 488.46L2123.00 488.61L2124.00 488.76L2125.00 488.91L2126.00 489.06L2127.00 489.21L2128.00 489.36L2129.00 489.52L2130.00 489.67L2131.00 489.82L2132.00 489.98L2133.00 490.13L2134.00 490.29L2135.00 490.45L2136.00 490.60L2137.00 490.76L2138.00 490.92L2139.00 491.08L2140.00 491.24L2141.00 491.40L2142.00 491.56L2143.00 491.72L2144.00 491.89L2145.00 492.05L2146.00 492.21L2147.00 492.38L2148.00 492.54L2149.00 492.71L2150.00 492.88L2151.00 493.04L2152.00 493.21L2153.00 493.38L2154.00 493.55L2155.00 493.72L2156.00 493.89L2157.00 494.06L2158.00 494.23L2159.00 494.40L2160.00 494.57L2161.00 494.74L2162.00 494.92L2163.00 495.09L2164.00 495.27L2165.00 495.44L2166.00 495.62L2167.00 495.79L2168.00 495.97L2169.00 496.15L2170.00 496.32L2171.00 496.50L2172.00 496.68L2173.00 496.86L2174.00 497.04L2175.00 497.22L2176.00 497.40L2177.00 497.58L2178.00 497.76L2179.00 497.94L2180.00 498.12L2181.00 498.31L2182.00 498.49L2183.00 498.67L2184.00 498.86L2185.00 499.04L2186.00 499.22L2187.00 499.41L2188.00 499.59L2189.00 499.78L2190.00 499.97L2191.00 500.15L2192.00 500.34L2193.00 500.53L2194.00 500.71L2195.00 500.90L2196.00 501.09L2197.00 501.28L2198.00 501.47L2199.00 501.66L2200.00 501.85L2201.00 502.04L2202.00 502.23L2203.00 502.42L2204.00 502.61L2205.00 502.80L2206.00 502.99L2207.00 503.18L2208.00 503.37L2209.00 503.57L2210.00 503.76L2211.00 503.95L2212.00 504.14L2213.00 504.34L2214.00 504.53L2215.00 504.72L2216.00 504.92L2217.00 505.11L2218.00 505.31L2219.00 505.50L2220.00 505.69L2221.00 505.89L2222.00 506.08L2223.00 506.28L2224.00 506.48L2225.00 506.67L2226.00 506.87L2227.00 507.06L2228.00 507.26L2229.00 507.46L2230.00 507.65L2231.00 507.85L2232.00 508.04L2233.00 508.24L2234.00 508.44L2235.00 508.64L2236.00 508.83L2237.00 509.03L2238.00 509.23L2239.00 509.42L2240.00 509.62L2241.00 509.82L2242.00 510.02L2243.00 510.22L2244.00 510.41L2245.00 510.61L2246.00 510.81L2247.00 511.01L2248.00 511.21L2249.00 511.40L2250.00 511.60L2251.00 511.80L2252.00 512.00L2253.00 512.20L2254.00 512.40L2255.00 512.60L2256.00 512.80L2257.00 513.00L2258.00 513.19L2259.00 513.39L2260.00 513.59L2261.00 513.79L2262.00 513.99L2263.00 514.19L2264.00 514.39L2265.00 514.59L2266.00 514.79L2267.00 514.99L2268.00 515.19L2269.00 515.39L2270.00 515.59L2271.00 515.79L2272.00 515.99L2273.00 516.19L2274.00 516.39L2275.00 516.59L2276.00 516.79L2277.00 516.99L2278.00 517.19L2279.00 517.40L2280.00 517.60L2281.00 517.80L2282.00 518.00L2283.00 518.20L2284.00 518.40L2285.00 518.60L2286.00 518.80L2287.00 519.00L2288.00 519.20L2289.00 519.41L2290.00 519.61L2291.00 519.81L2292.00 520.01L2293.00 520.21L2294.00 520.41L2295.00 520.61L2296.00 520.82L2297.00 521.02L2298.00 521.22L2299.00 521.42L2300.00 521.62L2301.00 521.82L2302.00 522.03L2303.00 522.23L2304.00 522.43L2305.00 522.63L2306.00 522.83L2307.00 523.03L2308.00 523.24L2309.00 523.44L2310.00 523.64L2311.00 523.84L2312.00 524.05L2313.00 524.25L2314.00 524.45L2315.00 524.65L2316.00 524.85L2317.00 525.06L2318.00 525.26L2319.00 525.46L2320.00 525.66L2321.00 525.86L2322.00 526.07L2323.00 526.27L2324.00 526.47L2325.00 526.67L2326.00 526.88L2327.00 527.08L2328.00 527.28L2329.00 527.48L2330.00 527.69L2331.00 527.89L2332.00 528.09L2333.00 528.29L2334.00 528.50L2335.00 528.70L2336.00 528.90L2337.00 529.10L2338.00 529.31L2339.00 529.51L2340.00 529.71L2341.00 529.91L2342.00 530.11L2343.00 530.32L2344.00 530.52L2345.00 530.72L2346.00 530.92L2347.00 531.13L2348.00 531.33L2349.00 531.53L2350.00 531.73L2351.00 531.94L2352.00 532.14L2353.00 532.34L2354.00 532.54L2355.00 532.74L2356.00 532.95L2357.00 533.15L2358.00 533.35L2359.00 533.55L2360.00 533.76L2361.00 533.96L2362.00 534.16L2363.00 534.36L2364.00 534.56L2365.00 534.77L2366.00 534.97L2367.00 535.17L2368.00 535.37L2369.00 535.57L2370.00 535.77L2371.00 535.98L2372.00 536.18L2373.00 536.38L2374.00 536.58L2375.00 536.78L2376.00 536.98L2377.00 537.19L2378.00 537.39L2379.00 537.59L2380.00 537.79L2381.00 537.99L2382.00 538.19L2383.00 538.39L2384.00 538.60L2385.00 538.80L2386.00 539.00L2387.00 539.20L2388.00 539.40L2389.00 539.60L2390.00 539.80L2391.00 540.00L2392.00 540.20L2393.00 540.40L2394.00 540.60L2395.00 540.81L2396.00 541.01L2397.00 541.21L2398.00 541.41L2399.00 541.61L2400.00 541.81L2401.00 542.01L2402.00 542.21L2403.00 542.41L2404.00 542.61L2405.00 542.81L2406.00 543.01L2407.00 543.21L2408.00 543.41L2409.00 543.61L2410.00 543.81L2411.00 544.01L2412.00 544.21L2413.00 544.41L2414.00 544.61L2415.00 544.81L2416.00 545.00L2417.00 545.20L2418.00 545.40L2419.00 545.60L2420.00 545.80L2421.00 546.00L2422.00 546.20L2423.00 546.40L2424.00 546.60L2425.00 546.80L2426.00 547.00L2427.00 547.20L2428.00 547.39L2429.00 547.59L2430.00 547.79L2431.00 547.99L2432.00 548.19L2433.00 548.39L2434.00 548.59L2435.00 548.78L2436.00 548.98L2437.00 549.18L2438.00 549.38L2439.00 549.58L2440.00 549.78L2441.00 549.98L2442.00 550.17L2443.00 550.37L2444.00 550.57L2445.00 550.77L2446.00 550.97L2447.00 551.16L2448.00 551.36L2449.00 551.56L2450.00 551.76L2451.00 551.96L2452.00 552.15L2453.00 552.35L2454.00 552.55L2455.00 552.75L2456.00 552.95L2457.00 553.14L2458.00 553.34L2459.00 553.54L2460.00 553.74L2461.00 553.93L2462.00 554.13L2463.00 554.33L2464.00 554.53L2465.00 554.72L2466.00 554.92L2467.00 555.12L2468.00 555.32L2469.00 555.51L2470.00 555.71L2471.00 555.91L2472.00 556.10L2473.00 556.30L2474.00 556.50L2475.00 556.70L2476.00 556.89L2477.00 557.09L2478.00 557.29L2479.00 557.48L2480.00 557.68L2481.00 557.88L2482.00 558.08L2483.00 558.27L2484.00 558.47L2485.00 558.67L2486.00 558.86L2487.00 559.06L2488.00 559.26L2489.00 559.45L2490.00 559.65L2491.00 559.85L2492.00 560.05L2493.00 560.24L2494.00 560.44L2495.00 560.64L2496.00 560.83L2497.00 561.03L2498.00 561.23L2499.00 561.42L2500.00 561.62L2501.00 561.82L2502.00 562.01L2503.00 562.21L2504.00 562.41L2505.00 562.60L2506.00 562.80L2507.00 563.00L2508.00 563.19L2509.00 563.39L2510.00 563.59L2511.00 563.78L2512.00 563.98L2513.00 564.17L2514.00 564.37L2515.00 564.57L2516.00 564.76L2517.00 564.96L2518.00 565.16L2519.00 565.35L2520.00 565.55L2521.00 565.75L2522.00 565.94L2523.00 566.14L2524.00 566.34L2525.00 566.53L2526.00 566.73L2527.00 566.93L2528.00 567.12L2529.00 567.32L2530.00 567.51L2531.00 567.71L2532.00 567.91L2533.00 568.10L2534.00 568.30L2535.00 568.50L2536.00 568.69L2537.00 568.89L2538.00 569.09L2539.00 569.28L2540.00 569.48L2541.00 569.68L2542.00 569.87L2543.00 570.07L2544.00 570.27L2545.00 570.46L2546.00 570.66L2547.00 570.85L2548.00 571.05L2549.00 571.25L2550.00 571.44L2551.00 571.64L2552.00 571.84L2553.00 572.03L2554.00 572.23L2555.00 572.43L2556.00 572.62L2557.00 572.82L2558.00 573.02L2559.00 573.21L2560.00 573.41L2561.00 573.61L2562.00 573.80L2563.00 574.00L2564.00 574.20L2565.00 574.39L2566.00 574.59L2567.00 574.79L2568.00 574.98L2569.00 575.18L2570.00 575.38L2571.00 575.57L2572.00 575.77" stroke="#7030a0" stroke-width="11.4" stroke-dasharray="34.54 45.63 34.20 45.82 34.20 45.78 34.20 45.28 34.20 46.06 34.20 45.78 34.20 45.86 34.20 46.37 34.20 45.13 34.20 46.33 34.20 45.56 34.20 46.30 34.20 45.52 34.20 45.81 34.20 45.57 34.20 45.98 34.20 45.92 34.20 45.86 34.20 45.73 34.20 45.57 34.20 45.74 34.20 45.50 34.20 46.91 34.20 44.69 34.20 46.32 34.20 45.77 34.20 45.96 34.20 45.99 34.20 46.04 34.20 45.91 34.20 2639.94"/>
</g>
<g font-family="Liberation Sans, Arial, sans-serif" font-weight="bold" fill="#000">
<text x="394.43" y="110.80" font-size="60.5" textLength="284.97" lengthAdjust="spacingAndGlyphs">Exemplary</text>
<text x="695.47" y="110.80" font-size="60.5" textLength="178.90" lengthAdjust="spacingAndGlyphs">course</text>
<text x="891.99" y="110.80" font-size="60.5" textLength="55.79" lengthAdjust="spacingAndGlyphs">of</text>
<text x="960.92" y="110.80" font-size="60.5" textLength="297.19" lengthAdjust="spacingAndGlyphs">generation</text>
<text x="1274.40" y="110.80" font-size="60.5" textLength="103.23" lengthAdjust="spacingAndGlyphs">and</text>
<text x="1392.94" y="110.80" font-size="60.5" textLength="181.04" lengthAdjust="spacingAndGlyphs">charge</text>
<text x="1590.70" y="110.80" font-size="60.5" textLength="127.46" lengthAdjust="spacingAndGlyphs">level</text>
<text x="1734.71" y="110.80" font-size="60.5" textLength="76.96" lengthAdjust="spacingAndGlyphs">for</text>
<text x="1826.78" y="110.80" font-size="60.5" textLength="28.89" lengthAdjust="spacingAndGlyphs">a</text>
<text x="1876.30" y="110.80" font-size="60.5" textLength="67.07" lengthAdjust="spacingAndGlyphs">10</text>
<text x="1956.99" y="110.80" font-size="60.5" textLength="127.18" lengthAdjust="spacingAndGlyphs">kWp</text>
<text x="2098.08" y="110.80" font-size="60.5" textLength="344.21" lengthAdjust="spacingAndGlyphs">photovoltaic</text>
<text x="420.88" y="190.50" font-size="60.5" textLength="187.79" lengthAdjust="spacingAndGlyphs">system</text>
<text x="628.98" y="190.50" font-size="60.5" textLength="119.94" lengthAdjust="spacingAndGlyphs">with</text>
<text x="763.44" y="190.50" font-size="60.5" textLength="158.79" lengthAdjust="spacingAndGlyphs">home</text>
<text x="937.65" y="190.50" font-size="60.5" textLength="200.24" lengthAdjust="spacingAndGlyphs">storage</text>
<text x="1155.05" y="190.50" font-size="60.5" textLength="177.97" lengthAdjust="spacingAndGlyphs">during</text>
<text x="1346.87" y="190.50" font-size="60.5" textLength="29.00" lengthAdjust="spacingAndGlyphs">a</text>
<text x="1394.04" y="190.50" font-size="60.5" textLength="170.08" lengthAdjust="spacingAndGlyphs">spring</text>
<text x="1578.43" y="190.50" font-size="60.5" textLength="95.47" lengthAdjust="spacingAndGlyphs">day</text>
<text x="1692.98" y="190.50" font-size="60.5" textLength="212.96" lengthAdjust="spacingAndGlyphs">without</text>
<text x="1922.85" y="190.50" font-size="60.5" textLength="120.28" lengthAdjust="spacingAndGlyphs">own</text>
<text x="2057.46" y="190.50" font-size="60.5" textLength="359.18" lengthAdjust="spacingAndGlyphs">consumption</text>
<text x="143.41" y="987.20" font-size="46.5" text-anchor="end">0</text>
<text x="142.79" y="918.72" font-size="46.5" text-anchor="end">1</text>
<text x="143.36" y="850.24" font-size="46.5" text-anchor="end">2</text>
<text x="143.18" y="781.76" font-size="46.5" text-anchor="end">3</text>
<text x="141.75" y="713.28" font-size="46.5" text-anchor="end">4</text>
<text x="142.79" y="644.80" font-size="46.5" text-anchor="end">5</text>
<text x="143.18" y="576.32" font-size="46.5" text-anchor="end">6</text>
<text x="143.54" y="507.84" font-size="46.5" text-anchor="end">7</text>
<text x="142.93" y="439.36" font-size="46.5" text-anchor="end">8</text>
<text x="143.23" y="370.88" font-size="46.5" text-anchor="end">9</text>
<text x="143.41" y="302.40" font-size="46.5" text-anchor="end">10</text>
<text x="2619.86" y="987.20" font-size="46.5">0</text>
<text x="2618.77" y="918.72" font-size="46.5">10</text>
<text x="2620.09" y="850.24" font-size="46.5">20</text>
<text x="2620.63" y="781.76" font-size="46.5">30</text>
<text x="2621.00" y="713.28" font-size="46.5">40</text>
<text x="2620.27" y="644.80" font-size="46.5">50</text>
<text x="2620.00" y="576.32" font-size="46.5">60</text>
<text x="2619.70" y="507.84" font-size="46.5">70</text>
<text x="2620.22" y="439.36" font-size="46.5">80</text>
<text x="2620.09" y="370.88" font-size="46.5">90</text>
<text x="2618.77" y="302.40" font-size="46.5">100</text>
<text transform="translate(273.02,1005.19) rotate(90)" x="0" y="0" font-size="46.5" textLength="117.19" lengthAdjust="spacingAndGlyphs">01:00</text>
<text transform="translate(372.27,1005.19) rotate(90)" x="0" y="0" font-size="46.5" textLength="117.19" lengthAdjust="spacingAndGlyphs">02:00</text>
<text transform="translate(471.52,1005.19) rotate(90)" x="0" y="0" font-size="46.5" textLength="117.19" lengthAdjust="spacingAndGlyphs">03:00</text>
<text transform="translate(570.77,1005.19) rotate(90)" x="0" y="0" font-size="46.5" textLength="117.19" lengthAdjust="spacingAndGlyphs">04:00</text>
<text transform="translate(670.02,1005.19) rotate(90)" x="0" y="0" font-size="46.5" textLength="117.19" lengthAdjust="spacingAndGlyphs">05:00</text>
<text transform="translate(769.27,1005.19) rotate(90)" x="0" y="0" font-size="46.5" textLength="117.19" lengthAdjust="spacingAndGlyphs">06:00</text>
<text transform="translate(868.52,1005.19) rotate(90)" x="0" y="0" font-size="46.5" textLength="117.19" lengthAdjust="spacingAndGlyphs">07:00</text>
<text transform="translate(967.77,1005.19) rotate(90)" x="0" y="0" font-size="46.5" textLength="117.19" lengthAdjust="spacingAndGlyphs">08:00</text>
<text transform="translate(1067.02,1005.19) rotate(90)" x="0" y="0" font-size="46.5" textLength="117.19" lengthAdjust="spacingAndGlyphs">09:00</text>
<text transform="translate(1166.27,1004.09) rotate(90)" x="0" y="0" font-size="46.5" textLength="118.31" lengthAdjust="spacingAndGlyphs">10:00</text>
<text transform="translate(1265.52,1004.09) rotate(90)" x="0" y="0" font-size="46.5" textLength="118.31" lengthAdjust="spacingAndGlyphs">11:00</text>
<text transform="translate(1364.77,1004.09) rotate(90)" x="0" y="0" font-size="46.5" textLength="118.31" lengthAdjust="spacingAndGlyphs">12:00</text>
<text transform="translate(1464.02,1004.09) rotate(90)" x="0" y="0" font-size="46.5" textLength="118.31" lengthAdjust="spacingAndGlyphs">13:00</text>
<text transform="translate(1563.27,1004.09) rotate(90)" x="0" y="0" font-size="46.5" textLength="118.31" lengthAdjust="spacingAndGlyphs">14:00</text>
<text transform="translate(1662.52,1004.09) rotate(90)" x="0" y="0" font-size="46.5" textLength="118.31" lengthAdjust="spacingAndGlyphs">15:00</text>
<text transform="translate(1761.77,1004.09) rotate(90)" x="0" y="0" font-size="46.5" textLength="118.31" lengthAdjust="spacingAndGlyphs">16:00</text>
<text transform="translate(1861.02,1004.09) rotate(90)" x="0" y="0" font-size="46.5" textLength="118.31" lengthAdjust="spacingAndGlyphs">17:00</text>
<text transform="translate(1960.27,1004.09) rotate(90)" x="0" y="0" font-size="46.5" textLength="118.31" lengthAdjust="spacingAndGlyphs">18:00</text>
<text transform="translate(2059.52,1004.09) rotate(90)" x="0" y="0" font-size="46.5" textLength="118.31" lengthAdjust="spacingAndGlyphs">19:00</text>
<text transform="translate(2158.77,1005.41) rotate(90)" x="0" y="0" font-size="46.5" textLength="116.96" lengthAdjust="spacingAndGlyphs">20:00</text>
<text transform="translate(2258.02,1005.41) rotate(90)" x="0" y="0" font-size="46.5" textLength="116.96" lengthAdjust="spacingAndGlyphs">21:00</text>
<text transform="translate(2357.27,1005.41) rotate(90)" x="0" y="0" font-size="46.5" textLength="116.96" lengthAdjust="spacingAndGlyphs">22:00</text>
<text transform="translate(2456.52,1005.41) rotate(90)" x="0" y="0" font-size="46.5" textLength="116.96" lengthAdjust="spacingAndGlyphs">23:00</text>
<text transform="translate(2555.77,1005.19) rotate(90)" x="0" y="0" font-size="46.5" textLength="117.19" lengthAdjust="spacingAndGlyphs">00:00</text>
<text transform="translate(67.60,0) rotate(-90)" x="-815.86" y="0" font-size="48.5" textLength="239.27" lengthAdjust="spacingAndGlyphs">Generation</text>
<text transform="translate(67.60,0) rotate(-90)" x="-565.54" y="0" font-size="48.5" textLength="38.63" lengthAdjust="spacingAndGlyphs">in</text>
<text transform="translate(67.60,0) rotate(-90)" x="-515.15" y="0" font-size="48.5" textLength="69.90" lengthAdjust="spacingAndGlyphs">kW</text>
<text transform="translate(2759.90,0) rotate(-90)" x="-1165.04" y="0" font-size="48.5" textLength="160.01" lengthAdjust="spacingAndGlyphs">Storage</text>
<text transform="translate(2759.90,0) rotate(-90)" x="-992.29" y="0" font-size="48.5" textLength="173.12" lengthAdjust="spacingAndGlyphs">capacity</text>
<text transform="translate(2759.90,0) rotate(-90)" x="-808.35" y="0" font-size="48.5" textLength="81.78" lengthAdjust="spacingAndGlyphs">and</text>
<text transform="translate(2759.90,0) rotate(-90)" x="-714.43" y="0" font-size="48.5" textLength="136.86" lengthAdjust="spacingAndGlyphs">charge</text>
<text transform="translate(2759.90,0) rotate(-90)" x="-563.31" y="0" font-size="48.5" textLength="105.36" lengthAdjust="spacingAndGlyphs">level</text>
<text transform="translate(2759.90,0) rotate(-90)" x="-452.53" y="0" font-size="48.5" textLength="42.39" lengthAdjust="spacingAndGlyphs">in</text>
<text transform="translate(2759.90,0) rotate(-90)" x="-400.63" y="0" font-size="48.5" textLength="97.70" lengthAdjust="spacingAndGlyphs">kWh</text>
<path d="M253.5 1284.2H381.3" stroke="#ffc000" stroke-width="12.9" stroke-linecap="round"/>
<path d="M1414.3 1283.8H1541.5" stroke="#00b050" stroke-width="12.9" stroke-linecap="round"/>
<path d="M2191.9 1283.8H2224.5M2272.2 1283.8H2304.8" stroke="#7030a0" stroke-width="12.9" stroke-linecap="round"/>
<text x="395.65" y="1299.80" font-size="48.5" textLength="251.30" lengthAdjust="spacingAndGlyphs">Generation</text>
<text x="658.37" y="1299.80" font-size="48.5" textLength="108.46" lengthAdjust="spacingAndGlyphs">from</text>
<text x="778.39" y="1299.80" font-size="48.5" textLength="74.61" lengthAdjust="spacingAndGlyphs">the</text>
<text x="864.40" y="1299.80" font-size="48.5" textLength="279.88" lengthAdjust="spacingAndGlyphs">photovoltaic</text>
<text x="1156.59" y="1299.80" font-size="48.5" textLength="157.54" lengthAdjust="spacingAndGlyphs">system</text>
<text x="1555.79" y="1299.80" font-size="48.5" textLength="292.39" lengthAdjust="spacingAndGlyphs">Transmission</text>
<text x="1858.98" y="1299.80" font-size="48.5" textLength="48.22" lengthAdjust="spacingAndGlyphs">to</text>
<text x="1919.82" y="1299.80" font-size="48.5" textLength="71.82" lengthAdjust="spacingAndGlyphs">the</text>
<text x="2003.30" y="1299.80" font-size="48.5" textLength="87.56" lengthAdjust="spacingAndGlyphs">grid</text>
<text x="2334.49" y="1299.80" font-size="48.5" textLength="152.43" lengthAdjust="spacingAndGlyphs">Charge</text>
<text x="2500.10" y="1299.80" font-size="48.5" textLength="105.04" lengthAdjust="spacingAndGlyphs">level</text>
</g>
</svg>
</body></html>
